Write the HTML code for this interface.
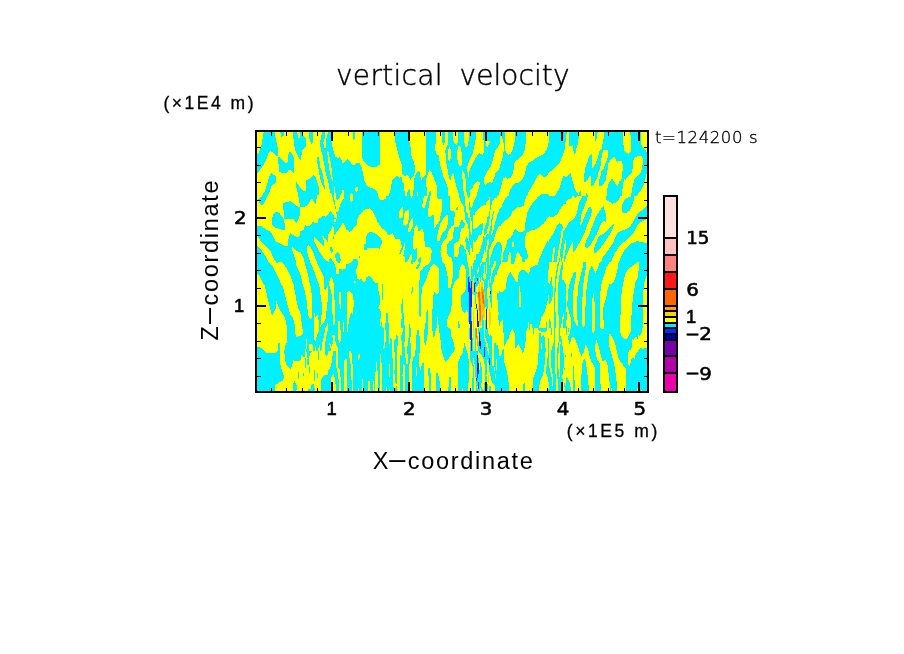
<!DOCTYPE html>
<html lang="en">
<head>
<meta charset="utf-8">
<title>vertical velocity</title>
<style>
html,body{margin:0;padding:0;background:#fff;}
body{width:904px;height:654px;overflow:hidden;}
svg{display:block}
text{font-family:"Liberation Sans",sans-serif;fill:#000}
.thin{font-family:"DejaVu Sans Light","DejaVu Sans","Liberation Sans",sans-serif;font-weight:200}
.lab text{font-family:"DejaVu Sans","Liberation Sans",sans-serif;font-size:17.6px;stroke:#000;stroke-width:0.55px}
.lab text.lib{font-family:"Liberation Sans",sans-serif;font-size:18.4px;stroke-width:0.6px}
</style>
</head>
<body>
<svg width="904" height="654" viewBox="0 0 904 654">
<rect width="904" height="654" fill="#fff"/>
<g shape-rendering="crispEdges">
<rect x="255" y="130" width="394" height="263" fill="#000"/>
<rect x="257" y="132" width="390" height="259" fill="#ffff00"/>
<svg x="257" y="132" width="390" height="259" viewBox="257 132 390 259" overflow="hidden">
<svg x="255" y="130" width="100" height="89" viewBox="255 130 100 89" overflow="hidden">
<rect x="255" y="130" width="100" height="89" fill="#ffff00"/>
<polygon fill="#00f0ff" points="263.8,131.6 274.7,131.6 275.7,138.2 277.7,147.7 278.4,157.2 273.4,153.1 270.6,151.1 268.6,153.1 266.6,159.3 263.2,165.6 256.6,174.2 256.6,155.9 259.8,150.4 261.8,143.6"/>
<polygon fill="#00f0ff" points="278.1,156.5 280.2,157.2 282.9,160.6 286.0,162.9 287.7,162.0 287.9,154.5 289.7,151.8 291.7,153.1 293.8,157.2 294.2,172.9 290.6,170.1 286.6,173.5 280.2,172.9 278.8,169.5"/>
<polygon fill="#00f0ff" points="279.9,131.6 284.3,131.6 283.6,136.1 281.5,136.5"/>
<polygon fill="#00f0ff" points="293.1,131.6 296.9,131.6 298.3,137.5 299.6,138.2 300.2,131.6 302.3,131.6 302.6,135.4 305.6,138.2 306.0,147.0 302.3,150.4 300.6,159.7 298.3,157.2 295.8,151.8 293.8,144.3"/>
<polygon fill="#00f0ff" points="308.7,131.6 313.2,131.6 313.2,142.2 311.5,143.6 309.7,140.2"/>
<polygon fill="#00f0ff" points="322.1,131.6 331.2,131.6 331.2,140.9 333.2,150.4 335.3,156.5 338.0,157.9 340.0,157.2 342.8,163.3 345.5,160.6 347.5,158.8 350.2,162.0 353.0,165.4 355.0,164.7 355.0,219.0 336.6,219.0 334.6,211.6 332.6,198.0 329.1,187.1 326.4,176.3 323.8,162.7 322.6,154.9 321.0,150.4 319.9,142.7 321.0,138.3"/>
<polygon fill="#ffff00" points="324.9,131.6 328.2,131.6 327.1,135.0 326.0,141.0 325.9,148.8 323.8,147.1 323.3,142.1 324.9,137.8"/>
<polygon fill="#ffff00" points="327.1,151.0 328.2,151.0 329.6,157.2 331.2,166.1 333.2,176.3 333.6,181.7 331.9,180.3 329.1,168.1"/>
<polygon fill="#00f0ff" points="316.9,156.5 318.9,157.2 320.3,166.7 323.0,177.6 325.1,185.8 325.1,189.9 323.7,189.9 321.7,181.7 318.9,170.8 316.9,161.3"/>
</svg>
<svg x="255" y="170" width="100" height="49" viewBox="255 170 100 49" overflow="hidden">
<rect x="255" y="170" width="100" height="49" fill="#ffff00"/>
<polygon fill="#00f0ff" points="271.6,173.1 275.5,176.1 276.6,182.2 271.6,185.5 269.4,192.1 266.1,199.3 262.7,205.4 259.4,203.2 257.8,199.9 261.6,196.5 265.0,191.0 268.3,180.0 269.9,174.4"/>
<polygon fill="#00f0ff" points="257.0,170.0 260.3,170.0 257.0,173.5"/>
<polygon fill="#00f0ff" points="278.8,170.0 288.2,170.0 287.1,172.8 283.8,173.5 279.6,172.0"/>
<polygon fill="#00f0ff" points="290.2,170.0 293.9,170.0 293.7,172.8"/>
<polygon fill="#00f0ff" points="295.9,181.1 299.2,186.6 303.1,190.5 305.9,190.5 306.4,180.5 310.3,178.3 313.6,175.3 315.8,177.7 319.2,187.7 319.2,194.9 316.9,195.4 315.8,204.8 312.5,199.3 310.9,199.3 308.1,204.3 305.3,206.5 300.4,207.1 299.2,201.0 297.6,192.1 296.2,186.6"/>
<polygon fill="#00f0ff" points="283.2,203.2 290.4,201.0 293.2,203.2 297.6,206.5 300.4,207.1 300.1,214.2 298.7,219.0 284.3,219.0 284.0,212.0 283.2,208.7"/>
<polygon fill="#00f0ff" points="272.1,219.0 273.3,214.2 276.0,212.0 278.8,212.6 282.1,216.5 283.2,219.0"/>
<polygon fill="#00f0ff" points="318.1,168.3 319.2,173.9 321.0,182.2 323.8,187.7 324.9,189.9 324.9,186.6 323.8,182.2 323.3,176.6 321.9,170.6 321.4,168.3"/>
<polygon fill="#00f0ff" points="324.1,165.6 326.0,173.9 328.0,180.5 329.1,186.6 330.2,192.1 332.1,195.4 333.8,203.2 335.2,207.6 336.3,212.0 337.1,219.0 355.0,219.0 355.0,168.9 332.4,168.9"/>
<polygon fill="#ffff00" points="329.1,166.7 330.2,173.3 331.0,178.3 332.1,180.7 333.0,180.5 332.1,173.9 331.0,166.7"/>
<polygon fill="#ffff00" points="334.1,187.1 334.1,197.7 335.2,203.2 336.3,212.0 338.0,212.6 340.2,204.3 344.0,197.7 344.0,189.9 342.4,190.5 339.1,198.8 337.4,199.9 335.8,197.7 335.2,187.7"/>
<polygon fill="#ffff00" points="350.1,194.9 351.8,193.0 353.5,194.3 353.5,198.8 351.8,202.6 350.4,200.4"/>
<polygon fill="#00f0ff" points="318.1,219.0 321.4,217.0 324.1,215.1 325.8,217.0 328.6,213.7 330.2,211.2 332.4,213.4 334.6,217.0 336.3,219.0"/>
</svg>
<svg x="255" y="219" width="100" height="66" viewBox="255 219 100 66" overflow="hidden">
<rect x="255" y="219" width="100" height="66" fill="#00f0ff"/>
<polygon fill="#ffff00" points="257.0,219.0 272.1,219.0 272.1,224.5 274.4,227.3 281.5,229.5 284.9,229.5 284.3,219.0 293.2,219.0 296.5,223.4 298.7,219.0 318.1,219.0 318.1,223.4 312.5,222.3 309.2,226.7 305.3,225.1 303.7,229.5 300.4,231.2 299.8,235.6 297.6,237.3 290.4,233.4 288.7,235.6 288.2,245.5 284.9,245.8 281.5,244.4 275.5,241.1 272.7,235.6 271.0,232.3 266.1,229.5 261.6,226.2 257.0,225.6"/>
<polygon fill="#ffff00" points="257.0,233.4 258.3,237.3 261.6,242.2 266.1,246.7 270.5,251.1 273.3,257.7 276.6,262.7 281.5,262.1 284.9,265.5 288.2,271.0 291.5,278.7 293.7,285.0 281.5,285.0 279.3,279.8 276.0,273.2 272.7,266.6 268.3,262.1 265.0,255.5 260.5,248.9 257.0,246.1"/>
<polygon fill="#ffff00" points="257.0,273.8 259.4,275.4 263.8,285.0 257.0,285.0"/>
<polygon fill="#ffff00" points="292.1,247.2 293.7,248.3 297.0,251.1 300.4,252.2 303.1,256.6 304.8,263.2 307.0,271.0 309.2,279.8 309.8,285.0 302.6,285.0 301.5,278.7 299.2,271.0 296.5,265.5 295.4,259.9 293.2,253.3 292.1,250.0"/>
<polygon fill="#ffff00" points="307.0,246.1 308.7,245.0 311.4,248.3 313.6,253.3 316.4,261.0 319.2,267.7 322.5,274.3 324.1,276.5 324.1,285.0 319.2,285.0 316.4,277.6 313.6,269.9 310.3,262.1 308.1,255.5 307.0,250.0"/>
<polygon fill="#ffff00" points="314.2,237.3 315.8,237.8 321.4,244.4 324.1,246.7 324.1,241.1 321.9,236.1 323.0,235.6 327.5,241.7 328.6,233.4 331.3,230.1 331.9,226.2 333.5,226.7 334.1,235.6 337.4,231.2 340.2,227.3 342.9,221.8 344.6,225.1 346.3,229.5 349.0,231.7 352.3,230.6 355.0,227.3 355.0,257.7 352.3,261.6 349.0,263.8 346.3,264.4 345.7,268.2 342.4,269.9 339.6,268.2 338.5,273.8 336.3,273.8 335.8,267.7 334.1,263.2 331.9,259.9 330.2,257.7 328.6,261.6 326.3,261.0 323.6,257.7 319.7,252.2 316.4,245.5 314.2,241.1"/>
<polygon fill="#00f0ff" points="330.2,246.7 332.4,247.8 333.0,252.2 331.3,252.7 330.2,250.0"/>
<polygon fill="#00f0ff" points="335.2,254.4 337.4,252.2 340.2,254.4 340.7,261.0 339.1,263.8 336.9,261.6 335.2,257.2"/>
<polygon fill="#00f0ff" points="333.0,235.6 334.1,235.6 334.1,238.9 333.0,238.9"/>
<polygon fill="#ffff00" points="334.1,219.0 335.8,219.0 335.8,222.3 334.4,222.3"/>
<polygon fill="#ffff00" points="328.6,285.0 330.2,278.7 331.9,277.1 333.0,280.9 334.1,285.0"/>
<polygon fill="#ffff00" points="353.5,285.0 354.0,280.4 355.0,279.8 355.0,285.0"/>
</svg>
<svg x="255" y="285" width="100" height="66" viewBox="255 285 100 66" overflow="hidden">
<rect x="255" y="285" width="100" height="66" fill="#00f0ff"/>
<polygon fill="#ffff00" points="257.0,285.0 264.4,285.0 266.1,291.6 268.3,301.6 270.5,310.4 272.1,315.4 274.4,311.0 275.5,308.8 275.5,300.5 276.6,300.5 277.7,304.9 281.0,311.5 284.3,316.0 286.0,321.5 287.1,329.2 287.1,341.4 285.4,345.3 284.3,351.0 280.2,351.0 279.9,342.5 278.5,343.1 278.0,351.0 265.0,351.0 261.6,348.1 257.0,346.4"/>
<polygon fill="#ffff00" points="282.1,285.0 284.3,291.6 286.0,299.4 288.2,307.1 290.4,314.9 293.2,318.2 294.8,325.9 295.4,333.7 296.5,336.8 299.2,336.4 302.8,334.2 302.6,329.2 301.5,321.5 300.9,314.9 298.7,309.3 296.5,300.5 294.8,291.6 293.7,285.0"/>
<polygon fill="#ffff00" points="303.1,285.0 304.8,291.6 306.4,299.4 307.5,309.3 308.7,317.1 310.9,319.8 312.0,317.1 312.5,307.1 312.0,296.1 310.3,285.0"/>
<polygon fill="#ffff00" points="319.2,285.0 320.3,293.8 321.4,301.6 322.5,307.1 321.4,316.0 320.3,327.0 323.6,322.6 325.8,318.2 326.9,307.1 327.5,301.6 328.0,291.6 328.0,286.1 326.9,285.0 326.3,290.0 324.7,290.5 323.8,285.0"/>
<polygon fill="#ffff00" points="329.1,285.0 331.3,290.5 331.9,301.6 332.4,312.7 333.0,320.4 333.0,325.4 334.1,325.4 335.2,320.4 335.2,312.7 334.6,301.6 334.1,290.5 334.1,285.0"/>
<polygon fill="#ffff00" points="339.1,292.2 340.7,292.2 341.3,301.6 341.1,308.8 340.0,308.8 339.3,301.6"/>
<polygon fill="#ffff00" points="347.4,291.6 349.0,291.1 352.3,293.3 353.5,298.3 353.5,313.8 350.7,313.2 349.6,317.1 348.5,323.7 347.9,331.5 347.0,331.5 347.0,318.2 346.8,307.1 347.0,296.1"/>
<polygon fill="#ffff00" points="343.3,322.1 344.2,322.1 344.2,331.5 343.3,331.5"/>
<polygon fill="#ffff00" points="314.2,313.2 315.3,313.2 315.3,317.6 317.5,314.9 318.1,318.2 318.9,322.6 318.6,331.5 316.9,335.9 315.6,340.9 314.5,339.8 314.2,331.5 313.8,321.5"/>
<polygon fill="#ffff00" points="327.5,323.2 328.0,323.2 327.5,331.5 325.8,338.1 325.2,344.7 324.7,351.0 321.4,351.0 322.5,342.5 324.1,334.8 325.2,329.2"/>
<polygon fill="#ffff00" points="338.5,321.5 340.0,320.4 340.2,329.2 341.1,332.6 340.7,340.3 339.6,343.6 338.5,340.3 338.2,331.5"/>
<polygon fill="#ffff00" points="332.4,335.3 334.6,334.8 334.9,340.3 336.3,344.7 337.7,346.9 338.0,351.0 331.3,351.0 330.2,346.9 329.1,343.1 330.2,343.6 331.9,346.9 333.0,342.5"/>
<polygon fill="#ffff00" points="305.3,351.0 305.9,344.7 306.4,339.2 307.0,339.2 306.8,344.7 306.4,351.0"/>
<polygon fill="#ffff00" points="308.7,351.0 309.2,344.7 309.8,343.1 312.5,345.3 313.1,351.0"/>
<polygon fill="#ffff00" points="315.3,351.0 315.3,346.9 316.1,346.9 316.1,351.0"/>
<polygon fill="#ffff00" points="318.1,351.0 318.6,346.9 319.4,344.2 320.0,346.9 320.3,351.0"/>
</svg>
<svg x="255" y="351" width="100" height="44" viewBox="255 351 100 44" overflow="hidden">
<rect x="255" y="351" width="100" height="44" fill="#00f0ff"/>
<polygon fill="#ffff00" points="265.0,351.0 277.1,351.0 276.0,352.7 271.6,353.4 266.1,352.7"/>
<polygon fill="#ffff00" points="280.2,351.0 284.3,351.0 284.9,359.8 286.5,365.4 290.4,369.3 292.1,366.5 293.2,359.3 294.8,361.5 297.0,360.4 298.7,361.5 300.9,359.8 301.5,355.4 303.7,357.6 305.3,357.1 305.3,351.0 306.4,351.0 307.0,357.6 308.7,358.7 310.3,353.2 312.5,351.0 333.0,351.0 332.4,357.6 331.9,362.1 330.2,367.6 328.0,370.9 327.5,374.8 324.1,374.8 321.9,377.5 320.8,382.0 320.8,391.0 274.9,391.0 275.5,385.3 278.2,383.1 283.2,380.3 284.0,376.4 282.1,370.9 280.2,364.3"/>
<polygon fill="#00f0ff" points="324.9,351.0 328.2,351.0 327.5,355.4 325.6,356.0"/>
<polygon fill="#00f0ff" points="318.1,351.0 318.9,351.0 318.9,359.8 318.1,359.8"/>
<polygon fill="#00f0ff" points="319.7,353.8 320.3,353.8 320.3,357.1 319.7,357.1"/>
<polygon fill="#00f0ff" points="305.3,357.6 306.4,357.6 306.4,367.6 305.3,368.7"/>
<polygon fill="#00f0ff" points="307.0,359.3 308.7,359.3 308.7,365.4 307.0,365.4"/>
<polygon fill="#00f0ff" points="308.9,367.0 309.8,367.0 309.8,372.6 308.9,372.6"/>
<polygon fill="#00f0ff" points="303.1,373.1 303.9,373.1 303.9,375.9 303.1,375.9"/>
<polygon fill="#00f0ff" points="298.1,371.5 299.0,371.5 299.0,378.7 298.1,378.7"/>
<polygon fill="#00f0ff" points="314.4,370.4 315.3,370.4 315.3,380.9 314.4,380.9"/>
<polygon fill="#00f0ff" points="316.9,372.6 317.6,372.6 317.6,377.5 316.9,377.5"/>
<polygon fill="#00f0ff" points="293.2,384.2 294.3,380.9 296.5,385.3 297.0,388.6 296.2,391.0 292.6,391.0"/>
<polygon fill="#00f0ff" points="308.1,391.0 308.7,388.6 309.8,389.2 309.8,391.0"/>
<polygon fill="#00f0ff" points="310.3,391.0 310.9,386.4 312.0,383.6 313.6,384.2 314.7,388.6 315.3,391.0"/>
<polygon fill="#ffff00" points="336.3,351.0 338.0,351.0 338.0,367.6 340.2,369.8 341.1,391.0 339.1,391.0 338.5,378.7 337.4,370.9 336.3,367.6"/>
<polygon fill="#ffff00" points="331.3,377.0 333.5,374.2 335.2,378.7 336.0,391.0 331.3,391.0"/>
<polygon fill="#ffff00" points="344.4,359.8 346.8,359.0 347.4,391.0 344.0,391.0"/>
<polygon fill="#ffff00" points="349.0,351.0 350.7,351.0 352.3,355.4 353.2,391.0 351.8,391.0 351.2,367.6 349.6,359.8"/>
</svg>
<svg x="353" y="130" width="100" height="66" viewBox="353 130 100 66" overflow="hidden">
<rect x="353" y="130" width="100" height="66" fill="#ffff00"/>
<polygon fill="#00f0ff" points="353.0,132.0 355.0,132.0 355.0,137.7 353.0,141.1"/>
<polygon fill="#00f0ff" points="362.4,132.0 379.5,132.0 379.5,140.5 380.1,152.1 380.1,164.3 376.8,166.5 370.1,166.7 366.3,164.3 362.4,159.3 362.1,146.6"/>
<polygon fill="#00f0ff" points="353.0,165.4 357.4,163.0 359.6,163.2 361.8,167.6 363.0,174.2 364.6,180.9 366.3,184.8 369.6,187.5 375.1,189.2 377.3,191.9 377.9,196.0 353.0,196.0"/>
<polygon fill="#ffff00" points="355.2,188.6 356.9,186.2 358.0,188.1 357.6,191.4 355.8,193.1"/>
<polygon fill="#00f0ff" points="394.5,132.0 395.0,141.1 397.2,149.9 398.9,156.5 401.7,164.3 402.2,173.1 404.4,176.5 406.1,175.4 407.8,174.8 410.5,179.8 412.7,176.5 414.2,174.8 414.9,170.9 414.4,163.2 411.6,156.5 410.5,146.6 409.4,141.1 408.9,132.0"/>
<polygon fill="#00f0ff" points="388.4,196.0 391.2,187.5 391.7,181.4 395.0,177.0 396.7,175.9 399.5,177.8 401.7,177.0 402.2,182.0 404.1,183.1 404.8,196.0"/>
<polygon fill="#00f0ff" points="407.0,196.0 407.8,189.7 410.0,189.2 410.0,196.0"/>
<polygon fill="#00f0ff" points="413.3,196.0 413.8,182.0 414.9,176.5 416.6,172.6 419.4,170.9 420.3,176.5 421.6,179.8 423.8,176.5 426.0,174.8 426.9,196.0"/>
<polygon fill="#ffff00" points="416.6,196.0 416.9,192.5 418.0,191.9 418.3,196.0"/>
<polygon fill="#00f0ff" points="426.0,132.0 436.0,132.0 436.0,142.2 434.9,146.6 436.0,154.3 438.7,154.9 439.8,163.2 441.5,169.8 443.7,177.6 445.9,182.0 447.6,187.5 447.9,196.0 437.1,196.0 436.5,185.3 435.4,182.0 433.2,176.5 431.5,172.0 429.9,170.0 428.2,172.0 426.6,178.7 426.0,174.2"/>
<polygon fill="#00f0ff" points="428.2,196.0 429.9,191.4 431.0,191.4 431.0,196.0"/>
<polygon fill="#00f0ff" points="442.0,132.0 445.0,132.0 444.8,142.2 443.2,145.5 442.0,141.1"/>
<polygon fill="#00f0ff" points="447.9,132.0 453.0,132.0 453.0,177.0 451.5,180.9 449.2,178.7 447.6,169.8 445.9,161.0 445.4,149.9 447.9,144.4"/>
<polygon fill="#ffff00" points="448.4,148.8 449.8,147.1 450.9,149.4 450.9,158.8 449.5,161.0 448.1,159.3"/>
</svg>
<svg x="353" y="196" width="100" height="66" viewBox="353 196 100 66" overflow="hidden">
<rect x="353" y="196" width="100" height="66" fill="#00f0ff"/>
<polygon fill="#ffff00" points="378.2,196.0 386.0,196.0 385.6,198.8 382.3,200.6 379.0,198.8"/>
<polygon fill="#ffff00" points="353.0,229.2 354.1,227.5 356.9,224.8 357.4,219.2 359.6,214.8 364.1,209.8 369.6,208.2 372.4,210.4 375.1,215.9 377.3,221.4 381.8,228.1 386.2,231.4 388.4,235.3 391.2,233.6 392.8,233.4 395.0,238.6 400.0,239.1 401.1,243.6 402.2,248.0 404.4,243.0 405.0,243.6 404.4,251.3 403.3,255.7 405.0,257.9 405.0,262.0 358.5,262.0 356.9,258.5 353.0,259.3"/>
<polygon fill="#00f0ff" points="364.1,244.1 366.1,243.6 366.1,236.4 368.5,232.5 371.3,232.0 376.8,234.2 379.5,236.9 382.0,240.2 381.5,244.1 380.1,246.3 379.5,248.5 367.4,248.0 366.8,249.7 364.1,249.7"/>
<polygon fill="#00f0ff" points="359.1,256.3 360.0,256.3 360.0,257.9 359.1,257.9"/>
<polygon fill="#00f0ff" points="399.2,254.1 400.3,250.2 402.2,247.4 403.3,244.7 403.9,245.2 402.8,249.1 401.1,253.0 400.0,254.1"/>
<polygon fill="#ffff00" points="411.1,196.0 412.2,196.0 412.2,197.7 411.1,197.7"/>
<polygon fill="#ffff00" points="398.9,217.6 399.2,211.5 401.1,208.2 403.0,207.1 403.3,214.3 402.2,218.1"/>
<polygon fill="#ffff00" points="403.3,224.8 403.7,214.8 405.5,211.5 408.3,209.8 409.2,210.4 408.9,218.1 407.8,223.7 405.5,225.9"/>
<polygon fill="#ffff00" points="408.1,231.4 408.9,224.8 411.1,219.2 413.0,217.0 413.3,224.8 411.6,229.2 409.4,232.0"/>
<polygon fill="#ffff00" points="413.3,249.1 413.6,231.4 414.9,227.0 416.6,225.0 417.7,227.0 418.3,231.4 421.6,229.2 423.2,229.7 424.3,236.9 424.9,247.4 428.2,246.9 430.4,247.4 431.8,251.3 431.0,255.7 430.4,262.0 421.0,262.0 420.7,256.8 418.3,259.1 417.7,262.0 414.9,262.0 416.9,257.9 416.9,248.0 414.9,249.7"/>
<polygon fill="#ffff00" points="407.2,262.0 409.4,256.8 411.6,254.1 412.2,257.9 411.1,262.0"/>
<polygon fill="#ffff00" points="422.1,206.5 423.2,199.3 424.3,196.0 428.2,196.0 427.1,199.3 426.0,203.7 424.9,207.6 423.2,207.6"/>
<polygon fill="#ffff00" points="430.4,196.0 437.1,196.0 437.6,198.8 441.5,199.3 442.0,209.3 440.9,214.8 439.3,221.4 436.5,225.3 434.3,228.1 434.3,217.0 433.2,214.8 430.4,217.6 428.2,216.5 428.2,210.4 429.3,202.6"/>
<polygon fill="#ffff00" points="449.8,196.0 453.0,196.0 453.0,210.9 450.3,210.4"/>
<polygon fill="#ffff00" points="437.1,240.8 437.6,233.6 440.4,223.7 443.2,218.7 445.9,215.0 448.1,215.4 447.9,223.7 445.9,229.2 443.7,231.4 441.5,234.7 439.8,240.8"/>
<polygon fill="#ffff00" points="453.0,225.9 450.3,228.1 448.1,231.4 447.0,236.9 444.3,240.2 441.5,244.7 440.4,251.3 441.5,256.8 441.5,262.0 453.0,262.0"/>
<polygon fill="#00f0ff" points="453.0,239.1 449.2,241.4 447.2,244.7 447.0,253.5 448.7,256.3 451.5,257.9 453.0,260.2"/>
</svg>
<svg x="353" y="262" width="100" height="66" viewBox="353 262 100 66" overflow="hidden">
<rect x="353" y="262" width="100" height="66" fill="#ffff00"/>
<polygon fill="#00f0ff" points="353.0,262.0 358.0,262.0 357.4,266.4 356.1,269.7 356.9,278.6 359.1,279.7 361.3,279.1 364.1,282.5 366.1,280.8 366.3,277.5 368.5,276.2 370.7,276.6 372.9,279.7 375.1,283.0 377.9,282.5 378.7,293.0 379.5,295.2 380.1,304.0 378.2,307.9 379.5,308.5 381.5,312.9 380.7,317.3 380.1,322.8 380.7,328.0 353.0,328.0"/>
<polygon fill="#ffff00" points="354.1,280.3 355.8,281.9 355.8,283.6 354.1,283.0"/>
<polygon fill="#ffff00" points="353.0,299.6 353.9,299.6 353.9,306.8 353.0,306.8"/>
<polygon fill="#00f0ff" points="381.5,285.2 382.9,284.1 382.9,299.6 382.0,300.2"/>
<polygon fill="#00f0ff" points="385.1,328.0 385.6,321.7 386.2,313.1 387.8,313.1 388.2,319.5 389.0,328.0"/>
<polygon fill="#00f0ff" points="381.2,321.2 382.3,322.8 382.6,328.0 380.7,328.0"/>
<polygon fill="#00f0ff" points="401.1,328.0 401.7,315.1 401.1,307.4 402.2,299.1 403.0,299.1 403.0,308.5 403.7,315.1 404.4,323.9 405.0,328.0"/>
<polygon fill="#00f0ff" points="411.1,293.5 411.6,290.8 412.2,287.2 413.1,287.2 412.7,291.3 412.2,294.1"/>
<polygon fill="#00f0ff" points="408.9,328.0 409.2,323.9 410.0,324.5 410.5,328.0"/>
<polygon fill="#00f0ff" points="406.1,262.0 407.2,262.0 407.0,262.9"/>
<polygon fill="#00f0ff" points="411.1,262.0 413.3,262.0 412.7,263.7 411.4,263.7"/>
<polygon fill="#00f0ff" points="415.8,268.9 416.9,265.9 419.2,262.6 421.0,262.0 419.9,264.8 418.3,268.1 416.9,269.2"/>
<polygon fill="#00f0ff" points="419.9,273.1 419.4,281.9 419.2,316.2 420.5,316.8 421.0,306.2 421.4,295.2 422.1,288.5 423.8,284.1 426.0,279.7 428.2,273.1 430.4,267.5 433.8,264.0 437.1,265.9 439.1,269.2 439.1,293.0 436.5,294.1 434.3,292.1 433.2,296.3 432.4,310.7 432.1,328.0 447.6,328.0 447.0,320.6 447.9,317.3 450.3,312.9 451.5,306.2 453.0,305.1 453.0,278.0 451.5,278.6 450.9,288.0 447.9,288.0 447.6,276.4 445.9,268.6 444.8,264.2 442.6,262.0 430.4,262.0 428.8,263.7 423.8,267.0 420.7,270.8"/>
<polygon fill="#ffff00" points="436.8,328.0 437.1,317.3 438.0,317.3 438.2,322.8 439.1,328.0"/>
<polygon fill="#00f0ff" points="424.9,328.0 426.0,319.5 426.6,310.7 428.0,310.1 428.2,317.3 428.0,328.0"/>
</svg>
<svg x="353" y="328" width="100" height="66" viewBox="353 328 100 66" overflow="hidden">
<rect x="353" y="328" width="100" height="66" fill="#00f0ff"/>
<polygon fill="#ffff00" points="358.0,360.1 358.3,355.1 359.6,354.0 359.9,355.7 359.1,360.1"/>
<polygon fill="#ffff00" points="358.0,391.1 358.3,388.3 359.1,388.3 359.1,391.1"/>
<polygon fill="#ffff00" points="361.8,391.1 362.1,379.4 363.0,379.4 363.2,391.1"/>
<polygon fill="#ffff00" points="367.9,391.1 368.3,381.1 369.6,381.1 369.8,391.1"/>
<polygon fill="#ffff00" points="372.9,391.1 373.1,381.1 374.0,381.1 374.0,391.1"/>
<polygon fill="#ffff00" points="375.1,391.1 374.9,376.7 375.7,370.6 376.2,362.3 376.9,362.3 377.1,370.6 377.9,372.2 377.9,391.1"/>
<polygon fill="#ffff00" points="423.8,328.0 453.0,328.0 453.0,391.1 423.8,391.1"/>
<polygon fill="#00f0ff" points="432.1,328.0 436.0,328.0 434.9,334.6 433.8,338.0 432.9,333.5"/>
<polygon fill="#00f0ff" points="438.7,328.0 450.3,328.0 451.5,333.5 453.0,336.8 453.0,354.0 450.3,355.7 447.0,361.2 445.4,361.7 443.2,356.8 441.5,350.1 440.4,339.1"/>
<polygon fill="#00f0ff" points="428.2,368.4 429.9,370.0 431.0,374.5 431.5,391.1 429.3,391.1 428.8,377.8"/>
<polygon fill="#00f0ff" points="436.0,373.4 438.0,373.4 439.3,378.9 440.4,391.1 436.5,391.1"/>
<polygon fill="#00f0ff" points="448.4,391.1 448.7,378.9 449.8,376.1 451.2,377.8 451.2,391.1"/>
</svg>
<svg x="380" y="328" width="50" height="36" viewBox="380 328 50 36" overflow="hidden">
<rect x="380" y="328" width="50" height="36" fill="#ffff00"/>
<polygon fill="#00f0ff" points="380.0,328.0 383.9,328.0 383.9,345.7 383.0,346.3 383.0,348.7 384.1,348.7 385.0,347.4 385.0,341.8 385.8,341.6 385.8,330.2 385.0,329.9 385.0,328.0 388.8,328.0 388.8,343.5 390.0,343.8 390.0,338.2 391.9,339.1 391.9,357.9 393.0,358.1 393.0,364.0 382.2,364.0 381.1,362.8 381.1,354.0 380.0,354.0"/>
<polygon fill="#00f0ff" points="394.1,340.2 394.9,339.1 396.0,338.5 396.0,335.2 396.9,335.2 398.0,336.3 398.0,345.7 396.9,346.3 396.9,364.0 394.9,364.0 394.9,352.1 394.1,351.8"/>
<polygon fill="#00f0ff" points="403.0,328.0 404.9,328.0 404.9,341.8 404.1,342.1 404.1,346.8 405.2,347.1 405.2,357.9 406.0,358.1 406.0,364.0 400.2,364.0 400.2,355.1 401.0,354.8 401.3,355.7 402.1,355.7 402.1,341.0 401.0,340.7 401.0,335.2 402.1,334.9 402.1,332.1 403.0,331.9"/>
<polygon fill="#00f0ff" points="409.0,328.0 411.0,328.0 411.0,336.8 410.1,337.1 410.1,342.9 411.0,343.2 411.0,359.0 410.1,359.2 410.1,364.0 408.2,364.0 408.2,354.0 407.1,353.7 407.1,346.3 408.2,346.0 408.2,338.2 409.0,338.0"/>
<polygon fill="#00f0ff" points="417.1,329.9 418.2,330.2 419.0,331.0 419.0,336.0 419.9,336.3 419.9,352.9 419.0,353.2 419.0,364.0 412.1,364.0 412.1,360.9 413.2,360.6 413.2,357.0 414.0,356.8 415.1,355.7 415.1,350.1 416.0,349.8 416.0,335.2 417.1,334.9"/>
<polygon fill="#00f0ff" points="424.0,329.1 425.1,328.0 428.0,328.0 428.0,334.9 427.0,335.2 427.0,341.0 425.9,341.3 425.9,344.9 425.1,344.9 424.9,342.9 424.0,342.7"/>
<polygon fill="#00f0ff" points="422.0,364.0 422.1,363.0 424.0,363.0 424.1,364.0"/>
</svg>
<svg x="380" y="358" width="50" height="36" viewBox="380 358 50 36" overflow="hidden">
<rect x="380" y="358" width="50" height="36" fill="#00f0ff"/>
<polygon fill="#ffff00" points="380.0,358.0 381.1,358.0 381.1,363.0 382.1,363.3 382.1,391.0 380.0,391.0"/>
<polygon fill="#ffff00" points="388.8,364.1 390.0,364.1 390.0,376.8 388.8,376.8"/>
<polygon fill="#ffff00" points="393.0,358.0 394.9,358.0 394.9,369.6 394.1,369.9 394.1,373.8 394.9,374.0 394.9,382.9 396.0,384.0 396.9,384.0 396.9,358.0 399.8,358.0 399.8,391.0 397.0,391.0 397.0,386.2 396.0,386.2 395.8,388.1 394.9,388.1 394.1,387.9 393.0,386.8"/>
<polygon fill="#ffff00" points="386.0,391.0 386.0,387.0 386.9,387.0 386.9,391.0"/>
<polygon fill="#ffff00" points="388.8,391.0 388.8,390.1 390.0,390.1 390.0,391.0"/>
<polygon fill="#ffff00" points="403.0,364.1 403.8,364.1 404.9,365.2 404.9,391.0 403.1,391.0 403.1,376.3 402.0,376.0 402.0,374.9 403.1,374.6"/>
<polygon fill="#ffff00" points="406.0,358.0 407.9,358.0 407.9,363.5 407.1,364.6 406.0,363.5"/>
<polygon fill="#ffff00" points="411.0,358.0 412.9,358.0 412.9,360.5 412.0,360.8 412.0,391.0 409.9,391.0 409.9,382.3 409.0,382.1 409.0,364.1 410.1,363.5 410.1,359.1"/>
<polygon fill="#ffff00" points="416.0,367.1 416.9,367.1 416.9,376.0 416.0,376.0"/>
<polygon fill="#ffff00" points="419.0,358.0 430.0,358.0 430.0,368.5 428.9,368.2 428.1,368.0 428.1,375.7 428.9,376.0 428.9,391.0 425.1,391.0 424.8,387.9 424.0,387.9 424.0,363.3 422.3,363.3 422.0,365.7 421.2,366.3 420.9,369.9 420.1,369.9 419.9,367.1 419.0,366.6"/>
</svg>
<svg x="451" y="130" width="100" height="66" viewBox="451 130 100 66" overflow="hidden">
<rect x="451" y="130" width="100" height="66" fill="#00f0ff"/>
<polygon fill="#ffff00" points="453.0,132.0 457.9,132.0 457.9,141.1 457.1,144.9 455.4,143.8 453.0,140.5"/>
<polygon fill="#ffff00" points="463.7,132.0 468.7,132.0 468.7,140.0 467.6,145.5 465.9,147.7 464.8,145.5 464.1,138.8"/>
<polygon fill="#ffff00" points="457.9,146.6 459.3,146.0 461.0,147.7 461.8,154.3 462.1,163.2 461.0,166.0 459.0,165.4 457.6,161.0 457.1,154.3"/>
<polygon fill="#ffff00" points="475.9,132.0 475.6,140.0 474.2,146.6 472.6,154.3 470.4,157.7 468.7,162.1 467.4,166.5 467.4,172.0 468.5,177.0 469.8,168.7 473.1,163.2 474.8,158.8 477.5,155.4 479.8,153.2 482.5,154.9 484.0,152.1 483.6,141.1 483.1,132.0"/>
<polygon fill="#ffff00" points="486.2,141.1 490.3,141.1 489.2,144.4 487.0,147.7 486.2,145.5"/>
<polygon fill="#ffff00" points="501.3,135.0 503.0,140.0 504.1,146.6 503.5,152.1 502.4,158.8 500.8,163.2 499.7,167.6 497.5,171.5 495.2,173.1 494.7,176.5 493.0,179.8 491.9,183.7 490.3,182.0 488.6,182.5 485.3,185.3 484.2,183.1 484.2,177.6 486.4,173.1 488.6,169.8 490.8,166.5 493.0,159.9 494.1,154.3 495.2,150.5 497.5,148.3 499.7,143.3 500.2,136.6"/>
<polygon fill="#ffff00" points="505.0,132.0 515.2,132.0 514.6,141.1 512.9,148.8 510.7,153.8 508.0,154.9 505.8,152.1 504.7,146.6"/>
<polygon fill="#ffff00" points="526.2,132.0 548.9,132.0 548.9,141.1 547.2,148.8 545.0,152.1 541.7,155.4 536.2,157.7 532.9,160.4 528.4,163.2 526.2,166.5 525.1,174.2 522.9,178.7 519.6,182.0 517.4,183.1 514.1,183.7 511.8,187.5 509.6,190.8 509.1,196.0 498.0,196.0 499.7,191.9 501.9,183.1 503.0,178.7 505.2,177.0 507.4,178.7 510.7,177.6 512.4,174.2 513.5,169.8 514.1,164.3 515.2,161.0 519.6,158.2 522.9,154.9 525.1,149.9 525.7,141.1"/>
<polygon fill="#ffff00" points="527.3,196.0 528.4,191.9 531.2,187.5 534.0,183.1 536.2,178.7 537.8,175.4 540.0,174.0 542.8,176.5 546.1,177.0 548.3,173.7 551.0,170.9 551.0,196.0"/>
<polygon fill="#00f0ff" points="539.5,196.0 541.7,194.2 547.2,193.9 550.0,196.0"/>
<polygon fill="#ffff00" points="451.0,177.0 452.1,175.9 453.2,172.0 454.1,176.5 455.4,183.1 457.1,188.6 458.7,193.1 459.3,196.0 451.0,196.0"/>
<polygon fill="#ffff00" points="462.1,169.3 463.7,172.0 465.4,176.5 465.9,185.3 466.5,191.9 467.6,196.0 464.3,196.0 463.2,189.7 462.6,179.8 461.8,174.2"/>
<polygon fill="#ffff00" points="470.0,196.0 470.4,189.7 473.1,187.5 473.7,184.2 477.5,181.1 479.8,182.5 479.2,187.5 477.5,191.9 476.4,196.0"/>
</svg>
<svg x="451" y="196" width="100" height="66" viewBox="451 196 100 66" overflow="hidden">
<rect x="451" y="196" width="100" height="66" fill="#00f0ff"/>
<polygon fill="#ffff00" points="493.0,196.0 508.0,196.0 505.2,198.8 503.0,202.6 501.3,207.1 499.1,209.3 498.0,213.7 496.4,218.1 495.2,222.5 494.7,229.2 493.0,229.2"/>
<polygon fill="#ffff00" points="495.2,229.2 498.6,225.9 503.0,222.5 508.5,218.1 511.3,214.8 512.4,211.5 515.2,209.3 517.4,207.1 520.1,207.6 523.5,206.0 525.1,200.4 526.2,196.0 538.4,196.0 536.2,199.3 532.9,202.6 530.1,207.1 527.3,212.6 526.2,218.1 525.1,223.7 524.6,230.3 521.8,232.0 517.4,231.4 515.7,229.2 514.1,229.7 512.9,234.7 510.2,238.0 507.4,239.7 506.3,244.7 505.2,249.1 503.0,253.5 502.4,262.0 501.0,262.0 501.3,255.7 501.9,248.0 501.3,243.6 499.7,242.2 496.9,242.5 495.2,244.7 493.6,249.1 492.5,253.5 491.4,262.0 488.6,262.0 488.6,229.2"/>
<polygon fill="#ffff00" points="512.1,241.9 514.1,241.9 514.1,247.1 512.1,247.1"/>
<polygon fill="#ffff00" points="507.4,262.0 508.5,254.6 509.6,251.9 511.3,253.5 511.3,262.0"/>
<polygon fill="#ffff00" points="514.6,262.0 516.3,254.6 517.4,251.9 519.6,254.6 521.8,257.9 521.8,262.0"/>
<polygon fill="#ffff00" points="551.0,215.9 549.5,216.5 546.1,219.8 543.4,223.7 539.5,227.0 536.2,229.2 531.8,230.3 527.3,232.0 525.7,234.7 524.9,240.2 525.1,246.9 527.3,252.4 527.9,257.9 525.1,259.6 524.9,262.0 538.4,262.0 539.5,257.9 541.7,253.5 543.9,248.0 546.1,243.6 547.2,240.8 548.3,242.5 551.0,239.7"/>
</svg>
<svg x="451" y="196" width="50" height="36" viewBox="451 196 50 36" overflow="hidden">
<rect x="451" y="196" width="50" height="36" fill="#ffff00"/>
<polygon fill="#00f0ff" points="459.0,196.0 465.1,196.0 465.1,205.4 466.2,206.0 466.5,211.5 467.9,213.1 468.1,217.6 470.1,217.8 470.1,232.0 469.3,232.0 468.7,229.2 468.1,225.9 467.0,223.1 465.4,220.3 465.1,213.7 464.3,211.5 464.0,207.1 462.1,203.7 460.1,200.4"/>
<polygon fill="#00f0ff" points="467.9,196.0 470.1,196.0 469.8,197.1 468.1,197.9"/>
<polygon fill="#00f0ff" points="476.2,196.0 496.9,196.0 496.9,197.7 494.7,197.9 494.1,198.8 493.3,201.0 492.2,201.5 491.9,204.8 491.1,205.1 490.9,209.8 490.0,209.8 490.0,197.4 489.2,197.4 488.9,199.9 487.2,201.5 485.8,203.2 485.6,204.8 483.6,205.1 481.1,206.2 479.2,207.9 477.0,210.4 475.1,212.0 474.8,214.8 473.1,215.1 473.1,228.6 474.8,228.9 475.3,227.8 477.0,227.0 479.2,225.3 481.4,223.7 482.8,223.1 483.0,229.2 482.0,230.3 482.0,232.0 472.0,232.0 471.9,220.9 471.2,220.3 470.9,217.0 470.1,216.7 469.8,209.8 469.0,209.3 469.0,202.4 470.1,202.1 470.1,206.5 471.2,207.9 471.9,207.6 472.0,206.0 472.8,205.7 473.0,202.1 474.0,201.5 474.2,199.9 475.1,199.6 475.3,197.9 476.2,197.7"/>
<polygon fill="#00f0ff" points="451.0,210.9 453.8,210.9 454.0,212.0 454.9,212.3 454.9,217.0 454.0,217.3 453.9,224.8 453.2,225.9 451.0,226.1"/>
<polygon fill="#00f0ff" points="456.0,209.8 456.1,207.9 457.1,207.1 458.1,207.1 458.1,209.8"/>
<polygon fill="#00f0ff" points="454.0,232.0 454.0,227.2 459.0,227.0 459.3,224.8 460.1,224.5 460.1,222.5 461.0,222.0 461.2,220.1 462.9,220.1 463.2,222.0 464.3,222.3 464.8,223.7 464.8,227.8 462.9,228.1 461.2,228.9 461.0,232.0"/>
<polygon fill="#00f0ff" points="489.2,211.2 490.0,211.2 490.0,218.1 489.2,219.2 488.9,227.5 488.1,229.2 487.2,230.3 487.0,232.0 484.1,232.0 484.2,228.1 485.6,224.8 487.0,222.5 487.0,218.1 488.1,215.9 489.2,215.4"/>
<polygon fill="#00f0ff" points="492.2,214.3 493.0,214.3 493.0,211.2 494.0,211.2 494.0,213.7 493.3,214.3 493.0,219.2 492.2,220.3 491.9,227.0 490.8,228.1 490.8,232.0 489.2,232.0 489.2,230.3 490.0,229.2 490.3,225.9 491.1,224.8 491.1,219.2 492.2,218.7"/>
<polygon fill="#00f0ff" points="501.0,207.9 499.9,208.4 499.1,209.8 498.8,212.0 498.0,212.6 497.2,214.3 496.9,217.6 496.1,218.1 495.8,220.3 495.0,221.4 494.7,224.8 493.9,225.9 493.6,229.2 493.0,230.3 493.0,232.0 496.9,232.0 497.0,229.2 498.0,228.1 498.8,227.0 499.1,226.1 501.0,225.9"/>
</svg>
<svg x="451" y="226" width="50" height="36" viewBox="451 226 50 36" overflow="hidden">
<rect x="451" y="226" width="50" height="36" fill="#00f0ff"/>
<polygon fill="#ffff00" points="451.0,226.0 459.3,226.0 459.0,226.8 454.0,227.1 454.0,231.5 453.1,232.1 452.9,237.9 452.1,239.3 451.0,239.8"/>
<polygon fill="#ffff00" points="464.3,226.0 468.0,226.0 468.1,228.5 469.1,229.0 469.1,240.7 468.1,240.9 467.9,237.9 467.0,237.1 466.2,237.3 465.9,239.0 465.1,239.3 465.1,241.5 465.9,242.0 466.2,248.1 467.0,249.2 467.9,250.3 469.0,253.1 469.3,254.8 470.1,254.8 470.1,245.1 470.9,245.1 471.2,247.8 472.0,248.1 472.0,251.7 473.1,251.9 473.1,240.1 474.0,240.1 474.2,241.8 475.6,241.8 475.9,240.4 477.0,239.3 477.3,237.9 478.1,236.5 479.2,235.1 481.1,234.8 482.0,233.7 482.2,230.4 483.1,229.9 483.1,226.0 484.8,226.0 484.8,227.7 484.2,228.2 483.9,236.0 483.1,236.5 483.0,242.0 482.2,242.6 482.0,244.8 481.1,245.4 480.9,248.7 480.0,249.2 479.8,251.7 478.9,252.5 478.7,253.9 476.2,254.2 475.9,259.7 474.2,260.3 474.0,262.0 467.0,262.0 467.0,254.8 465.9,253.7 465.7,250.1 464.8,249.2 464.0,248.1 463.7,246.5 462.1,245.1 461.2,244.3 460.1,244.3 459.8,247.0 459.0,247.3 459.0,253.7 458.1,254.2 457.9,256.7 454.0,256.7 454.0,244.3 455.1,243.1 456.5,242.0 457.9,241.8 459.0,239.8 459.8,239.0 460.1,232.1 461.0,231.5 461.1,229.0 462.1,228.5 464.0,227.9"/>
<polygon fill="#ffff00" points="470.1,226.0 471.9,226.0 471.9,234.8 470.9,234.8 470.9,232.1 470.1,231.8"/>
<polygon fill="#ffff00" points="473.1,226.0 478.1,226.0 477.3,227.7 475.6,227.9 475.1,228.8 473.1,228.8"/>
<polygon fill="#ffff00" points="451.0,258.1 452.0,258.1 452.0,262.0 451.0,262.0"/>
<polygon fill="#ffff00" points="488.5,226.0 490.0,226.0 489.7,229.3 489.2,233.2 487.5,234.3 486.4,234.8 485.8,236.5 484.2,237.1 484.1,236.0 484.7,234.3 486.4,233.2 487.2,230.4 487.8,228.2"/>
<polygon fill="#ffff00" points="492.0,226.0 494.0,226.0 493.9,229.3 493.0,230.4 492.8,232.6 491.9,233.2 491.7,234.8 490.8,234.8 490.5,232.6 491.1,232.1 491.9,229.3"/>
<polygon fill="#ffff00" points="499.1,226.0 498.0,228.2 496.9,229.9 496.1,232.6 495.2,234.3 494.7,236.0 494.1,239.8 493.0,242.0 491.9,242.6 490.8,246.5 489.7,248.1 489.2,250.3 488.9,254.8 488.6,262.0 490.3,262.0 490.5,257.0 490.8,254.8 491.9,253.7 493.0,249.2 494.7,245.9 496.4,243.1 498.0,242.0 499.7,242.3 501.0,243.1 501.0,226.0"/>
<polygon fill="#ffff00" points="489.2,237.9 488.6,238.7 487.2,240.4 487.0,245.4 486.1,246.5 485.8,252.0 484.8,252.0 484.8,250.3 484.2,250.1 483.6,253.7 483.1,254.2 482.8,258.1 482.0,258.6 482.0,262.0 486.1,262.0 486.1,258.1 487.0,257.5 487.2,250.3 488.1,249.8 488.2,245.4 489.2,242.6"/>
<polygon fill="#ffff00" points="493.9,262.0 494.0,261.0 495.8,261.0 495.9,262.0"/>
</svg>
<svg x="451" y="262" width="100" height="66" viewBox="451 262 100 66" overflow="hidden">
<rect x="451" y="262" width="100" height="66" fill="#00f0ff"/>
<polygon fill="#ffff00" points="487.5,262.0 511.3,262.0 511.6,264.2 513.5,264.0 513.5,262.0 538.4,262.0 537.8,264.8 535.1,265.3 532.9,266.4 530.1,268.6 529.0,274.7 527.3,273.1 524.6,270.3 521.8,269.7 519.0,272.0 517.9,278.6 517.4,282.5 515.2,280.3 512.9,276.4 510.7,272.0 509.6,273.1 507.4,277.5 506.3,283.0 505.8,288.5 503.0,291.9 500.2,291.3 498.6,293.0 496.9,294.1 496.9,306.2 498.0,311.8 498.6,321.7 500.2,323.9 501.9,320.6 502.8,320.1 503.0,328.0 487.5,328.0"/>
<polygon fill="#00f0ff" points="521.8,273.6 522.9,273.6 522.9,274.7 521.8,274.7"/>
<polygon fill="#ffff00" points="519.0,285.8 520.1,285.8 520.7,295.2 520.9,306.2 520.1,307.9 519.0,306.2"/>
<polygon fill="#ffff00" points="551.0,264.8 550.0,265.3 548.3,270.8 548.1,283.0 551.0,284.1"/>
<polygon fill="#ffff00" points="551.0,294.1 548.3,294.6 548.1,298.5 546.1,306.2 545.0,310.7 542.8,315.1 541.2,317.3 540.0,323.9 538.4,328.0 551.0,328.0"/>
<polygon fill="#00f0ff" points="546.1,328.0 546.4,321.7 547.2,321.2 547.5,328.0"/>
<polygon fill="#ffff00" points="543.9,285.0 545.0,285.0 545.0,286.1 543.9,286.1"/>
<polygon fill="#ffff00" points="527.9,328.0 528.2,322.3 529.0,322.3 529.3,328.0"/>
<polygon fill="#ffff00" points="530.1,328.0 530.4,323.9 531.8,323.9 532.0,328.0"/>
</svg>
<svg x="451" y="262" width="50" height="36" viewBox="451 262 50 36" overflow="hidden">
<rect x="451" y="262" width="50" height="36" fill="#00f0ff"/>
<polygon fill="#ffff00" points="451.0,262.0 453.1,262.0 453.1,277.5 452.1,278.0 452.0,283.6 451.0,283.8"/>
<polygon fill="#ffff00" points="462.3,263.9 464.0,265.6 465.1,267.5 465.9,270.3 466.0,285.2 465.9,289.7 464.3,291.9 462.9,293.5 461.2,294.9 461.0,298.0 452.1,298.0 452.1,288.5 453.1,288.0 453.2,285.2 454.0,284.7 454.0,282.2 455.1,281.4 456.0,280.3 457.9,279.1 459.0,277.8 459.2,270.3 460.1,269.2 460.4,267.0 461.2,265.3"/>
<polygon fill="#ffff00" points="467.9,262.0 474.0,262.0 473.1,263.1 473.0,268.6 472.0,268.9 472.0,266.1 471.2,266.1 470.9,278.6 470.1,278.6 469.8,276.4 469.3,275.8 469.0,267.5 468.0,267.3"/>
<polygon fill="#ffff00" points="473.1,280.8 473.4,277.2 474.2,275.3 475.1,275.3 475.1,277.5 474.2,278.0 474.1,281.9 473.1,282.2"/>
<polygon fill="#ffff00" points="477.0,273.9 477.1,270.3 478.0,269.7 478.1,267.3 478.9,267.0 478.9,272.0 478.1,272.5 478.0,273.9"/>
<polygon fill="#ffff00" points="480.0,265.9 480.3,263.9 480.9,262.0 482.0,262.0 481.7,263.9 481.1,264.5 480.9,265.9"/>
<polygon fill="#ffff00" points="484.2,265.3 484.8,265.0 485.0,273.1 485.8,274.2 485.8,278.6 484.7,280.0 484.1,279.7 483.4,278.0 483.2,273.6 484.1,273.1"/>
<polygon fill="#ffff00" points="486.1,262.0 487.2,262.0 487.2,273.6 486.4,273.9"/>
<polygon fill="#ffff00" points="489.2,262.0 490.0,262.0 490.0,264.8 489.2,264.8"/>
<polygon fill="#ffff00" points="494.4,262.0 496.1,262.0 496.1,265.3 495.2,267.0 493.9,269.2 493.0,270.8 492.2,275.3 491.1,276.4 490.9,282.5 490.0,282.7 490.0,276.4 490.8,275.3 490.9,269.2 492.2,267.5 493.0,265.3 493.6,263.7"/>
<polygon fill="#ffff00" points="501.0,263.9 499.9,264.2 499.1,267.5 498.0,270.3 497.2,272.0 496.9,274.7 495.0,275.3 494.7,276.9 494.0,278.0 493.6,281.9 492.8,282.5 492.2,285.2 492.0,298.0 496.9,298.0 496.9,293.5 498.0,293.0 498.8,291.3 499.9,291.0 500.2,293.0 501.0,293.0"/>
<polygon fill="#ffff00" points="488.1,280.3 489.1,280.3 489.2,286.9 490.0,288.0 490.0,295.2 489.2,296.3 489.1,298.0 487.2,298.0 487.1,288.5 487.9,288.0"/>
<polygon fill="#ffff00" points="478.9,276.9 480.0,276.9 480.3,281.9 481.1,281.9 481.3,276.9 482.0,277.2 482.2,280.3 483.9,281.4 484.1,298.0 477.0,298.0 477.0,293.5 476.2,293.0 476.2,287.4 477.5,286.3 478.7,284.1"/>
<polygon fill="#0030ff" points="467.9,276.9 469.0,276.9 469.1,281.9 470.1,282.5 470.2,288.0 471.2,287.7 471.2,281.1 472.0,281.1 472.1,298.0 469.3,298.0 469.1,291.9 468.1,291.3 468.0,284.1"/>
<polygon fill="#0030ff" points="477.0,278.0 478.0,278.0 478.0,280.8 477.0,280.8"/>
<polygon fill="#0030ff" points="474.2,284.1 475.1,282.2 476.0,282.2 475.9,283.8 475.1,284.7 474.9,291.9 474.2,291.9"/>
<polygon fill="#0030ff" points="490.0,291.0 490.9,291.0 490.9,293.8 490.0,293.8"/>
<polygon fill="#ffd000" points="472.0,282.2 473.8,282.2 473.8,294.6 472.1,294.6"/>
<polygon fill="#ffd000" points="478.1,286.9 478.9,286.3 479.1,282.5 480.0,282.2 480.0,291.9 478.1,291.9"/>
<polygon fill="#ffd000" points="481.1,282.2 483.1,282.2 483.2,287.4 481.1,287.4"/>
<polygon fill="#ffa000" points="478.1,291.9 480.0,291.3 480.3,298.0 477.8,298.0"/>
<polygon fill="#ffa000" points="481.1,287.4 483.4,287.4 483.9,293.0 481.3,293.0"/>
<polygon fill="#ff6600" points="478.9,296.3 480.0,295.7 480.3,298.0 478.9,298.0"/>
<polygon fill="#ff6600" points="481.4,293.0 483.6,293.0 484.1,298.0 482.0,298.0"/>
</svg>
<svg x="451" y="292" width="50" height="36" viewBox="451 292 50 36" overflow="hidden">
<rect x="451" y="292" width="50" height="36" fill="#ffff00"/>
<polygon fill="#00f0ff" points="451.0,292.0 452.0,292.0 452.0,305.8 451.0,306.1"/>
<polygon fill="#00f0ff" points="464.0,292.0 469.0,292.0 469.0,323.0 468.1,321.9 467.9,311.9 467.0,311.6 466.8,310.3 465.9,310.5 465.7,312.2 464.0,312.7 462.9,311.6 462.1,309.7 461.8,306.9 461.0,306.4 461.1,295.3 462.1,294.5 462.9,293.4"/>
<polygon fill="#00f0ff" points="471.9,292.0 472.8,292.0 472.8,294.2 472.0,294.5"/>
<polygon fill="#00f0ff" points="471.2,306.9 472.0,306.9 472.0,320.8 471.2,320.8"/>
<polygon fill="#00f0ff" points="458.1,328.0 458.1,321.0 459.0,321.0 459.2,323.8 460.1,324.4 460.1,328.0"/>
<polygon fill="#00f0ff" points="474.0,292.0 477.3,292.0 477.1,294.2 476.2,294.5 476.2,303.9 475.3,304.2 475.2,294.8 474.2,294.8"/>
<polygon fill="#00f0ff" points="484.5,292.0 487.0,292.0 487.1,299.2 487.8,299.7 487.9,308.6 486.1,308.9 486.0,307.5 484.8,306.4 484.7,297.5"/>
<polygon fill="#00f0ff" points="481.1,309.1 482.0,309.1 482.0,313.6 481.1,313.6"/>
<polygon fill="#00f0ff" points="482.2,315.2 483.1,315.2 483.2,319.7 483.9,320.2 484.1,328.0 482.4,328.0"/>
<polygon fill="#00f0ff" points="485.2,319.9 486.0,319.9 486.0,328.0 485.2,328.0"/>
<polygon fill="#00f0ff" points="488.9,297.5 489.2,295.9 490.0,295.6 490.2,292.0 491.9,292.0 491.9,307.5 491.1,307.8 490.9,303.1 490.2,302.5 490.0,297.8"/>
<polygon fill="#00f0ff" points="496.9,293.1 498.0,293.4 498.8,292.0 501.0,292.0 501.0,321.9 500.2,322.1 500.1,325.7 499.1,325.7 499.0,320.8 498.0,320.2 497.9,315.8 498.8,315.2 499.0,312.5 498.0,311.9 497.9,300.3 497.0,299.7"/>
<polygon fill="#00f0ff" points="475.3,308.0 477.0,308.0 477.8,308.6 477.8,310.3 477.0,310.3 477.0,309.1 475.3,309.1"/>
<polygon fill="#ffd000" points="472.1,292.0 473.8,292.0 473.8,294.8 472.8,294.5 472.8,292.0"/>
<polygon fill="#ffd000" points="473.1,311.1 473.8,311.1 474.0,328.0 473.1,328.0"/>
<polygon fill="#ffd000" points="477.3,292.0 484.5,292.0 484.7,297.5 484.8,306.4 485.0,314.1 484.7,318.0 483.9,318.5 482.0,314.1 481.7,323.0 481.4,326.3 479.5,326.3 478.9,314.1 478.1,305.8 477.5,297.5"/>
<polygon fill="#ffa000" points="477.8,292.0 480.3,292.0 480.6,300.3 481.1,308.6 481.3,315.8 480.9,321.9 479.5,321.9 479.2,313.0 478.7,303.1 478.0,296.4"/>
<polygon fill="#ffa000" points="481.3,292.0 484.2,292.0 484.5,300.3 484.6,308.0 483.4,309.7 482.5,303.1 481.7,296.4"/>
<polygon fill="#ff6600" points="478.1,292.0 479.8,292.0 480.0,297.5 480.6,305.8 480.9,314.1 480.6,319.7 479.8,319.7 479.5,311.4 478.9,302.0 478.4,295.3"/>
<polygon fill="#ff6600" points="481.9,292.0 483.4,292.0 483.7,298.6 483.9,304.2 483.1,304.2 482.4,297.5"/>
<polygon fill="#ffd000" points="489.2,309.1 490.0,309.1 490.2,311.9 490.9,312.2 490.9,325.2 490.2,325.7 490.0,328.0 489.1,328.0"/>
<polygon fill="#0030ff" points="469.1,292.0 471.9,292.0 471.9,306.9 471.2,307.2 471.2,320.8 471.9,321.3 471.9,328.0 470.1,328.0 470.1,324.1 469.1,323.2"/>
<polygon fill="#0030ff" points="475.8,304.2 476.9,304.2 476.9,307.8 475.8,307.8"/>
<polygon fill="#0030ff" points="476.9,310.3 477.8,310.3 478.1,320.8 478.7,321.3 478.7,326.6 477.1,326.8 477.0,320.8"/>
<polygon fill="#0000aa" points="477.1,313.0 477.8,312.7 478.0,320.2 477.3,320.5"/>
<polygon fill="#0030ff" points="486.0,309.1 487.0,309.1 487.1,328.0 486.0,328.0"/>
<polygon fill="#0030ff" points="490.2,292.0 490.9,292.0 490.9,293.9 490.2,293.9"/>
</svg>
<svg x="451" y="328" width="100" height="66" viewBox="451 328 100 66" overflow="hidden">
<rect x="451" y="328" width="100" height="66" fill="#ffff00"/>
<polygon fill="#00f0ff" points="451.0,336.3 452.7,339.1 454.3,345.7 454.9,349.0 453.8,352.3 451.0,354.0"/>
<polygon fill="#00f0ff" points="458.2,391.1 458.2,362.3 459.8,357.9 461.5,354.5 463.2,349.0 464.3,343.5 465.4,345.7 467.0,352.3 468.7,357.9 470.4,361.2 471.5,365.6 472.0,372.2 472.6,391.1"/>
<polygon fill="#ffff00" points="462.1,391.1 462.1,388.3 463.2,388.3 463.2,391.1"/>
<polygon fill="#00f0ff" points="503.0,328.0 527.3,328.0 526.2,332.4 526.2,336.8 525.1,344.6 524.0,350.1 522.9,354.0 521.8,350.1 519.6,346.3 517.9,342.4 517.4,345.7 514.6,349.0 515.2,342.4 515.2,334.6 514.1,331.3 512.4,329.1 510.7,331.3 508.5,336.8 506.3,341.3 504.7,345.7 503.9,349.0 503.0,339.1"/>
<polygon fill="#00f0ff" points="494.1,342.4 495.2,342.4 497.5,344.6 499.7,350.1 501.3,354.5 503.0,349.0 503.9,349.0 504.7,361.2 506.3,367.8 508.0,374.5 508.5,381.1 509.1,391.1 495.2,391.1 494.7,385.5 492.5,383.3 490.3,380.0 489.2,374.5 488.1,361.2 488.6,354.5 489.7,347.9 489.2,339.1 490.8,335.2 491.4,342.4"/>
<polygon fill="#ffff00" points="496.1,359.0 496.9,359.0 496.9,366.7 496.1,366.7"/>
<polygon fill="#ffff00" points="494.4,366.7 495.0,366.7 495.0,371.1 494.4,371.1"/>
<polygon fill="#ffff00" points="495.2,373.9 495.9,373.9 495.9,377.8 495.2,377.8"/>
<polygon fill="#00f0ff" points="529.0,328.0 530.1,328.0 530.1,330.2 529.0,330.2"/>
<polygon fill="#00f0ff" points="532.9,328.0 534.0,328.0 533.7,333.5 532.9,334.1"/>
<polygon fill="#00f0ff" points="538.9,333.5 541.2,332.4 541.7,339.1 541.2,350.1 540.6,361.2 539.5,365.6 538.4,372.2 537.3,366.7 538.4,355.7 538.9,344.6"/>
<polygon fill="#00f0ff" points="542.3,335.7 543.9,334.6 545.0,339.1 545.6,350.1 545.0,361.2 543.9,370.0 542.8,375.6 540.6,380.0 539.5,385.5 538.4,391.1 532.3,391.1 532.9,384.4 534.0,376.7 535.6,372.2 537.3,365.6 539.5,361.2 541.2,355.7 541.7,344.6"/>
<polygon fill="#00f0ff" points="548.3,338.0 549.5,337.4 551.0,334.6 551.0,391.1 548.3,391.1 548.9,384.4 547.2,375.6 545.6,372.2 546.7,364.5 547.8,355.7 548.3,344.6"/>
<polygon fill="#00f0ff" points="537.3,328.0 547.2,328.0 546.7,331.3 545.0,332.4 539.5,331.3"/>
<polygon fill="#00f0ff" points="522.9,391.1 523.5,384.4 524.2,381.1 524.9,384.4 524.9,391.1"/>
<polygon fill="#00f0ff" points="528.4,391.1 529.0,388.3 529.8,391.1"/>
<polygon fill="#00f0ff" points="533.1,378.9 533.7,376.7 534.0,381.1 533.4,383.3"/>
</svg>
<svg x="461" y="328" width="50" height="36" viewBox="461 328 50 36" overflow="hidden">
<rect x="461" y="328" width="50" height="36" fill="#ffff00"/>
<polygon fill="#00f0ff" points="461.0,355.1 462.1,354.0 463.1,352.3 463.2,348.5 464.0,347.4 464.2,343.2 465.0,343.2 465.1,345.7 466.0,346.8 466.3,350.1 467.1,351.2 467.9,354.5 468.1,359.0 469.0,360.1 469.2,364.0 461.0,364.0"/>
<polygon fill="#00f0ff" points="469.2,328.0 470.1,328.0 470.1,339.1 469.3,338.8"/>
<polygon fill="#00f0ff" points="470.0,340.7 472.1,340.7 472.1,338.0 473.1,338.0 473.1,351.0 474.0,351.2 474.2,364.0 472.1,364.0 470.1,361.2"/>
<polygon fill="#00f0ff" points="474.8,328.0 475.7,328.0 475.8,351.8 474.8,351.8"/>
<polygon fill="#00f0ff" points="474.2,351.2 477.6,351.2 477.9,355.1 477.0,355.1 476.9,364.0 474.2,364.0"/>
<polygon fill="#00f0ff" points="477.6,328.0 488.1,328.0 488.1,333.5 489.2,334.6 489.8,336.8 490.3,335.2 491.1,335.2 492.0,337.4 492.0,364.0 480.4,364.0 480.1,362.3 479.3,361.2 478.7,357.9 477.9,355.1 477.6,351.2 478.1,350.1 478.1,343.5 478.7,341.8 478.7,334.6 477.6,333.5"/>
<polygon fill="#ffff00" points="478.7,328.0 480.1,328.0 480.1,329.7 478.7,329.7"/>
<polygon fill="#ffff00" points="484.2,328.0 485.1,328.0 485.2,338.0 486.2,339.6 487.0,342.4 488.1,344.6 488.7,350.1 488.9,355.1 488.1,354.5 487.8,352.3 487.0,350.1 486.2,344.6 485.3,341.3 484.5,339.1"/>
<polygon fill="#ffff00" points="478.1,350.1 479.3,352.3 480.9,354.0 482.3,356.2 483.1,359.0 484.0,359.8 484.0,364.0 481.2,364.0 480.9,362.3 480.1,361.7 479.8,359.0 478.7,357.9 477.9,355.1"/>
<polygon fill="#ffff00" points="482.0,348.2 482.8,348.2 482.8,349.0 482.0,349.0"/>
<polygon fill="#ffff00" points="487.0,364.0 487.1,360.1 487.8,360.1 488.1,362.3 488.7,363.4 488.7,364.0"/>
<polygon fill="#0030ff" points="470.1,328.0 472.1,328.0 472.1,340.7 470.1,340.4"/>
<polygon fill="#0030ff" points="471.0,340.7 472.1,340.7 472.1,350.7 471.2,350.7"/>
<polygon fill="#0030ff" points="479.0,332.1 480.1,332.1 480.1,340.7 480.9,341.3 481.0,348.7 480.1,348.7 479.8,346.3 479.0,345.7"/>
<polygon fill="#0000aa" points="479.3,341.3 480.6,341.3 480.8,346.3 479.5,346.3"/>
<polygon fill="#0030ff" points="484.0,347.1 485.1,347.1 485.1,356.8 484.0,356.8"/>
<polygon fill="#0000aa" points="477.0,355.1 477.9,355.1 478.0,357.9 478.7,363.4 478.7,364.0 477.0,364.0"/>
<polygon fill="#0030ff" points="488.9,358.1 490.0,358.1 490.0,364.0 488.9,364.0"/>
<polygon fill="#0030ff" points="485.9,328.0 487.0,328.0 487.0,328.8 485.9,328.8"/>
<polygon fill="#ffd000" points="473.2,328.0 474.0,328.0 474.0,340.4 473.3,340.4"/>
<polygon fill="#ffa000" points="475.9,328.0 477.0,328.0 477.3,333.5 477.9,339.1 477.9,346.3 477.0,346.5 476.9,340.2 476.2,338.0"/>
<polygon fill="#ff6600" points="476.0,329.1 476.8,329.1 477.0,333.5 477.3,337.4 476.5,337.4 476.2,333.0"/>
<polygon fill="#ffd000" points="481.0,341.3 481.4,341.3 481.4,345.7 481.0,345.7"/>
<polygon fill="#00f0ff" points="503.0,328.0 511.0,328.0 511.0,331.9 509.9,332.4 509.7,334.6 508.8,335.7 508.6,338.5 507.7,339.1 506.9,341.8 506.1,342.9 505.0,345.7 504.0,345.7 503.9,333.5 503.1,333.0"/>
<polygon fill="#00f0ff" points="494.1,343.2 495.8,343.2 496.1,344.9 497.8,345.1 498.1,347.4 498.9,350.1 499.7,357.9 500.8,355.1 501.9,352.9 502.2,350.1 503.0,349.3 504.0,349.0 504.1,362.3 505.0,363.4 505.0,364.0 497.0,364.0 497.0,359.2 496.1,359.2 496.0,364.0 494.1,364.0"/>
</svg>
<svg x="461" y="358" width="50" height="36" viewBox="461 358 50 36" overflow="hidden">
<rect x="461" y="358" width="50" height="36" fill="#00f0ff"/>
<polygon fill="#ffff00" points="468.1,358.0 469.8,358.0 470.1,360.8 471.2,361.9 472.1,365.2 472.9,367.4 473.1,376.8 472.1,378.5 472.1,391.0 468.1,391.0 468.1,384.0 469.0,382.3 469.2,360.8"/>
<polygon fill="#ffff00" points="473.2,358.0 474.0,358.0 474.2,363.5 474.9,365.2 475.1,375.7 475.9,377.9 476.0,391.0 474.2,391.0 474.0,365.7 473.2,364.1"/>
<polygon fill="#ffff00" points="479.0,358.0 480.1,358.0 480.1,369.9 479.0,369.9"/>
<polygon fill="#ffff00" points="480.1,358.0 482.8,358.0 483.1,359.1 484.0,359.7 484.1,363.5 485.1,365.2 485.2,382.3 484.2,382.9 484.1,390.6 483.1,390.1 482.0,387.9 481.2,385.7 481.0,383.4 482.0,382.9 482.1,367.4 481.0,366.3 480.9,362.1 480.1,361.9"/>
<polygon fill="#ffff00" points="487.0,360.2 487.8,360.2 488.0,363.0 488.9,363.5 489.1,371.8 490.0,372.4 490.2,376.3 491.1,376.8 491.3,381.2 492.2,382.3 493.1,384.0 494.8,385.1 495.0,391.0 490.9,391.0 490.9,386.2 490.0,385.9 489.2,386.8 488.9,391.0 488.0,391.0 488.0,384.5 487.0,384.0 487.0,376.3 486.2,376.0 486.2,375.1 487.0,374.9"/>
<polygon fill="#ffff00" points="492.0,358.0 493.9,358.0 493.9,365.7 492.1,365.7"/>
<polygon fill="#ffff00" points="496.0,359.1 497.0,359.1 497.0,369.9 496.0,369.9"/>
<polygon fill="#ffff00" points="494.1,367.1 494.8,367.1 494.8,371.0 494.1,371.0"/>
<polygon fill="#ffff00" points="494.8,374.0 496.0,374.0 496.0,377.9 494.8,377.9"/>
<polygon fill="#ffff00" points="504.0,358.0 511.0,358.0 511.0,391.0 509.1,391.0 509.0,382.3 508.0,381.2 507.9,375.1 506.9,374.0 506.8,370.7 505.9,369.6 505.8,366.3 505.0,365.2 504.8,363.0 504.0,362.4"/>
<polygon fill="#ffff00" points="462.1,391.0 462.1,388.1 463.1,388.1 463.1,391.0"/>
<polygon fill="#ffff00" points="480.1,391.0 480.1,388.1 480.9,388.1 480.9,391.0"/>
<polygon fill="#ffff00" points="477.0,387.9 477.2,386.2 477.9,386.2 477.9,387.9"/>
<polygon fill="#0030ff" points="477.0,358.0 478.0,358.0 478.1,363.0 478.8,363.3 479.0,374.0 478.0,374.6 477.9,376.8 477.0,379.0 476.9,381.2 476.0,381.5 476.0,379.6 476.9,377.4 477.0,369.1"/>
<polygon fill="#7800aa" points="477.2,368.2 477.9,368.2 477.9,370.7 477.2,370.7"/>
<polygon fill="#0030ff" points="478.0,382.3 479.0,382.3 479.0,388.7 478.1,388.7"/>
<polygon fill="#0030ff" points="488.9,358.0 490.0,358.0 490.0,364.6 489.1,364.6"/>
<polygon fill="#ffd000" points="488.0,375.1 488.9,375.1 488.9,383.4 488.1,383.4"/>
</svg>
<svg x="549" y="130" width="100" height="66" viewBox="549 130 100 66" overflow="hidden">
<rect x="549" y="130" width="100" height="66" fill="#00f0ff"/>
<polygon fill="#ffff00" points="566.7,132.0 568.9,132.0 569.1,146.6 571.7,145.5 572.8,144.9 573.3,151.0 574.7,154.3 576.7,147.7 578.3,143.3 578.9,132.0 594.9,132.0 595.2,141.6 596.6,138.8 597.7,132.0 604.3,132.0 603.2,141.1 602.1,146.6 601.0,151.0 625.0,151.0 625.0,186.0 610.9,186.0 608.7,184.2 607.1,189.7 606.5,196.0 587.7,196.0 587.2,191.9 586.1,193.6 585.5,196.0 581.1,196.0 580.5,190.8 579.1,191.9 578.9,196.0 576.7,191.9 574.4,187.5 572.2,179.8 570.6,173.1 569.5,174.2 566.1,177.6 563.9,175.4 562.3,178.7 560.1,186.4 557.3,191.9 554.5,196.0 549.0,196.0 549.0,172.0 551.2,170.9 555.6,166.5 560.1,162.1 562.3,156.5 564.5,149.9 565.6,141.1"/>
<polygon fill="#ffff00" points="623.1,132.0 630.3,132.0 630.9,141.1 630.9,152.1 628.6,153.8 625.9,152.7 624.2,149.9 623.3,143.3"/>
<polygon fill="#ffff00" points="640.8,132.0 647.0,132.0 647.0,153.2 645.2,149.9 643.0,147.7 641.4,144.4 640.8,138.8"/>
<polygon fill="#ffff00" points="633.6,158.8 636.9,156.5 641.4,156.0 642.8,158.8 643.0,163.2 641.9,167.6 640.8,173.1 637.5,176.5 634.7,178.7 633.6,183.1 632.5,187.5 631.4,193.1 630.9,196.0 621.5,196.0 622.0,191.9 623.1,185.3 625.3,179.8 628.6,175.4 631.4,173.1 633.1,166.5"/>
<polygon fill="#ffff00" points="636.4,196.0 640.8,190.8 643.6,185.3 645.2,179.8 646.3,174.2 647.0,173.7 647.0,196.0"/>
</svg>
<svg x="575" y="150" width="50" height="36" viewBox="575 150 50 36" overflow="hidden">
<rect x="575" y="150" width="50" height="36" fill="#ffff00"/>
<polygon fill="#00f0ff" points="591.3,153.9 591.9,154.1 592.0,167.7 593.0,167.7 594.1,166.0 595.2,164.4 596.0,162.2 597.1,160.5 597.7,157.7 598.0,155.5 599.1,154.1 599.3,151.1 600.4,150.0 602.9,150.0 602.9,152.8 602.1,153.3 601.8,157.7 601.0,158.8 600.7,165.5 599.9,166.6 599.6,169.4 598.8,170.5 598.0,173.8 597.7,177.1 596.8,177.7 596.0,179.9 594.9,181.5 594.1,183.7 593.0,186.0 591.0,186.0 591.0,176.0 589.4,176.0 588.8,177.7 588.0,178.8 586.9,181.0 585.5,182.1 584.1,181.8 584.1,173.2 585.0,172.7 585.1,167.1 586.1,166.0 586.3,164.1 587.2,162.2 588.0,160.5 588.3,158.8 589.1,157.2 589.9,155.5"/>
<polygon fill="#00f0ff" points="608.1,150.0 623.7,150.0 623.9,150.8 625.0,151.1 625.0,178.8 623.9,179.3 623.7,181.0 623.1,182.6 623.1,186.0 618.1,186.0 617.9,184.8 618.7,183.2 619.2,181.5 620.9,180.4 621.2,178.8 622.0,178.5 622.0,171.6 622.8,170.5 622.8,163.8 622.0,163.3 621.9,161.1 618.1,161.1 617.6,161.9 616.8,161.1 615.9,159.4 615.1,158.3 614.8,157.2 613.2,156.9 612.1,158.3 611.0,159.1 610.4,160.8 609.3,161.9 608.2,163.8 608.1,169.9 607.1,170.2 606.2,177.7 606.0,179.9 604.9,181.5 603.8,183.2 602.7,184.8 601.8,186.0 599.1,186.0 599.3,179.9 599.9,177.1 600.7,176.0 601.0,171.8 601.8,170.5 602.7,169.4 603.8,168.3 604.0,166.0 604.9,165.5 605.1,163.8 606.0,162.2 606.8,160.5 607.1,158.8 608.1,157.7"/>
<polygon fill="#00f0ff" points="608.2,186.0 608.2,184.3 609.3,182.6 610.4,181.5 611.2,179.3 612.6,179.0 613.7,181.0 614.8,182.6 615.9,184.6 617.0,185.1 617.0,186.0"/>
<polygon fill="#00f0ff" points="575.0,150.0 576.0,150.0 576.0,152.8 575.0,152.8"/>
</svg>
<svg x="549" y="196" width="100" height="66" viewBox="549 196 100 66" overflow="hidden">
<rect x="549" y="196" width="100" height="66" fill="#ffff00"/>
<polygon fill="#00f0ff" points="549.0,196.0 572.8,196.0 571.1,198.8 568.4,199.3 566.7,201.0 565.6,203.7 563.4,204.3 561.7,207.1 559.5,210.4 557.8,213.7 554.5,215.9 551.8,217.6 549.0,215.9"/>
<polygon fill="#00f0ff" points="574.2,196.0 576.7,196.0 576.1,198.2 574.7,198.0"/>
<polygon fill="#00f0ff" points="582.2,196.0 587.7,196.0 586.6,200.4 585.0,204.8 583.3,209.3 581.1,214.8 580.2,225.9 582.2,222.5 584.4,217.0 587.2,210.4 589.4,207.1 591.0,206.5 591.9,211.5 590.5,217.0 588.3,222.5 586.1,228.1 584.4,233.6 581.6,239.1 578.3,244.7 575.0,250.8 572.8,253.0 573.1,240.2 570.6,245.8 568.4,251.3 566.1,255.7 565.0,262.0 549.0,262.0 549.0,240.2 551.2,236.9 554.0,232.5 556.7,225.9 559.0,223.1 561.2,223.7 562.8,225.9 563.4,231.4 565.6,228.1 568.9,222.5 572.8,219.8 575.5,216.5 577.2,211.5 578.3,206.0 580.0,201.0 581.6,198.2"/>
<polygon fill="#ffff00" points="561.7,229.2 563.4,229.2 562.5,238.0 561.2,244.7 560.1,251.3 559.5,257.9 559.0,262.0 556.7,262.0 557.6,255.7 558.7,249.1 559.8,242.5 560.9,235.8"/>
<polygon fill="#ffff00" points="565.0,240.2 566.5,240.2 565.8,248.0 564.5,255.7 563.9,262.0 562.1,262.0 562.7,255.7 564.0,246.9"/>
<polygon fill="#ffff00" points="553.2,248.0 554.8,246.9 554.5,253.5 553.9,257.9 553.4,262.0 551.7,262.0 552.3,255.7"/>
<polygon fill="#ffff00" points="560.1,262.0 560.3,257.9 560.9,255.7 561.2,262.0"/>
<polygon fill="#00f0ff" points="603.8,205.4 604.3,209.3 606.0,214.8 606.3,222.0 603.2,220.9 601.0,223.7 598.8,229.2 596.6,234.7 593.2,240.2 590.5,245.2 587.7,248.0 585.3,247.4 585.0,243.6 587.2,239.1 589.4,234.7 591.6,228.1 593.8,222.5 596.0,216.5 598.8,212.6 601.5,208.2"/>
<polygon fill="#00f0ff" points="613.7,224.2 613.2,228.1 610.9,232.5 607.6,238.0 604.3,242.5 601.0,246.9 597.7,251.3 594.9,254.1 593.8,250.2 594.9,245.8 596.6,241.4 598.2,236.9 601.0,234.7 604.3,233.6 607.6,230.3 610.9,227.0"/>
<polygon fill="#00f0ff" points="606.0,196.0 619.8,196.0 619.2,199.3 616.5,202.1 612.6,203.7 609.3,201.5 606.5,200.4"/>
<polygon fill="#00f0ff" points="622.0,206.0 623.1,202.6 625.3,199.3 628.6,197.1 633.1,196.0 634.2,196.0 633.6,200.4 632.0,206.0 629.8,210.4 626.4,212.6 622.6,212.6"/>
<polygon fill="#00f0ff" points="647.0,206.0 645.2,207.1 641.9,210.4 638.6,212.6 636.4,215.9 634.2,219.2 632.0,223.7 629.8,227.0 626.4,229.2 622.0,230.3 618.1,232.5 615.4,236.9 613.2,242.5 609.8,248.0 606.5,252.4 603.2,256.8 601.0,262.0 610.9,262.0 613.2,256.8 615.4,252.4 618.1,248.0 620.9,244.1 624.8,241.4 628.6,238.0 633.1,233.6 636.4,227.0 638.6,223.7 641.9,221.4 645.2,219.8 647.0,219.2"/>
<polygon fill="#00f0ff" points="619.2,262.0 620.9,256.8 623.1,252.4 626.4,248.0 630.9,243.6 636.4,241.4 641.9,241.6 647.0,243.6 647.0,262.0"/>
</svg>
<svg x="549" y="262" width="100" height="66" viewBox="549 262 100 66" overflow="hidden">
<rect x="549" y="262" width="100" height="66" fill="#00f0ff"/>
<polygon fill="#ffff00" points="549.0,262.0 557.8,262.0 556.7,268.6 555.1,278.6 554.3,290.8 554.5,304.0 554.3,315.1 554.0,328.0 551.2,328.0 550.7,321.7 549.0,318.4"/>
<polygon fill="#00f0ff" points="550.1,283.0 551.4,276.4 552.3,284.1 553.2,291.9 552.9,295.2 551.2,301.8 549.0,305.1 549.0,284.1"/>
<polygon fill="#ffff00" points="559.5,262.0 562.1,262.0 560.6,268.6 559.0,277.5 558.1,286.3 557.8,297.4 558.4,306.2 558.7,328.0 555.9,328.0 555.6,317.3 555.4,306.2 555.4,295.2 555.9,284.1 557.3,273.1 558.7,265.3"/>
<polygon fill="#ffff00" points="563.4,262.0 583.3,262.0 582.7,267.5 581.1,273.1 580.0,278.6 578.6,284.1 578.0,290.8 577.2,298.5 572.8,298.5 573.3,290.8 575.0,281.9 576.1,274.2 575.0,270.8 573.6,273.1 571.7,277.5 569.5,284.1 568.0,290.8 567.3,298.5 566.7,298.5 566.5,290.8 565.6,284.1 563.4,279.7 562.1,280.8 562.3,273.1 562.8,266.4"/>
<polygon fill="#ffff00" points="566.7,289.7 568.4,289.7 567.6,298.5 567.3,306.2 568.7,310.7 570.6,317.3 571.1,328.0 566.7,328.0 566.1,321.7 567.3,317.3 566.5,311.8 565.8,306.2 566.1,298.5"/>
<polygon fill="#ffff00" points="561.2,328.0 561.7,321.7 563.2,314.0 563.9,315.1 563.2,321.7 562.8,328.0"/>
<polygon fill="#ffff00" points="572.8,298.5 577.2,298.5 576.9,308.5 577.5,319.5 578.0,327.3 576.1,323.9 573.9,319.5 572.8,312.9 572.5,306.2"/>
<polygon fill="#ffff00" points="585.7,262.0 599.9,262.0 598.8,265.3 597.1,269.7 595.5,273.1 593.2,268.6 591.6,265.9 589.9,268.6 588.8,273.1 587.7,279.7 587.2,286.3 586.1,290.8 585.5,306.2 585.0,317.3 585.0,325.1 583.3,327.3 582.2,325.1 582.0,315.1 582.2,304.0 582.7,293.0 583.3,284.1 584.4,276.4 585.5,269.7"/>
<polygon fill="#ffff00" points="592.7,295.2 593.8,294.1 594.4,299.6 594.9,308.5 594.9,328.0 591.6,328.0 591.9,317.3 592.1,306.2 592.4,299.6"/>
<polygon fill="#ffff00" points="609.3,262.0 618.7,262.0 617.6,268.6 615.9,275.3 614.3,280.8 612.1,283.6 609.3,284.1 607.6,289.7 606.5,296.3 604.9,301.8 603.2,308.5 602.7,315.1 603.8,321.7 604.1,328.0 600.4,328.0 600.1,317.3 599.9,306.2 600.1,295.2 600.8,287.4 602.1,280.8 604.3,274.2 606.5,267.5"/>
<polygon fill="#ffff00" points="634.7,264.2 637.5,262.0 639.2,262.0 638.8,268.6 638.0,276.4 635.3,283.0 634.2,289.7 633.1,297.4 632.0,306.2 631.4,317.3 631.4,328.0 619.8,328.0 620.3,317.3 621.5,306.2 621.1,298.5 622.0,289.7 623.7,280.8 625.3,274.2 627.5,269.7 630.9,267.0"/>
<polygon fill="#ffff00" points="647.0,275.3 645.2,279.7 644.1,284.1 643.0,295.2 643.0,328.0 647.0,328.0"/>
</svg>
<svg x="549" y="328" width="100" height="66" viewBox="549 328 100 66" overflow="hidden">
<rect x="549" y="328" width="100" height="66" fill="#00f0ff"/>
<polygon fill="#ffff00" points="549.0,328.0 554.0,328.0 554.0,341.3 552.5,345.7 551.4,350.1 551.0,364.5 552.3,372.2 553.2,380.0 553.4,385.5 552.5,385.5 551.8,377.8 550.1,370.0 549.0,365.6"/>
<polygon fill="#00f0ff" points="551.0,328.0 551.8,328.0 551.8,334.6 551.0,335.7"/>
<polygon fill="#ffff00" points="555.1,328.0 559.0,328.0 559.0,339.1 557.6,346.8 556.7,349.0 556.5,361.2 557.3,374.5 557.8,385.5 558.1,391.1 556.5,391.1 556.2,381.1 555.1,370.0 554.8,359.0 555.1,347.9"/>
<polygon fill="#ffff00" points="559.5,342.4 560.6,342.4 560.1,350.1 559.5,361.2 559.8,372.2 560.1,376.7 559.0,376.7 558.4,366.7 558.4,355.7 558.7,347.9"/>
<polygon fill="#ffff00" points="559.5,328.0 570.6,328.0 570.0,333.5 568.4,336.3 565.6,336.8 565.0,341.3 562.3,340.2 561.2,337.4 560.1,334.6"/>
<polygon fill="#00f0ff" points="565.6,328.0 566.7,328.0 566.7,334.6 565.6,334.6"/>
<polygon fill="#00f0ff" points="568.0,328.0 568.9,328.0 568.9,332.4 568.0,332.4"/>
<polygon fill="#ffff00" points="561.2,337.4 562.3,340.2 565.0,341.3 565.6,336.8 568.4,336.3 568.7,344.6 570.6,342.4 571.7,337.4 573.3,336.3 575.5,340.2 577.8,345.7 579.4,351.8 581.6,355.7 583.3,353.4 584.4,349.0 585.7,344.6 587.2,346.8 588.3,350.1 589.4,355.7 591.0,361.2 593.2,364.5 594.9,367.8 595.2,391.1 588.8,391.1 588.3,381.1 587.2,372.2 586.1,363.4 585.0,359.0 582.7,361.2 581.6,370.0 581.1,391.1 575.0,391.1 574.4,377.8 574.2,364.5 573.6,364.5 572.8,377.8 572.8,391.1 571.1,391.1 570.0,383.3 567.3,377.8 566.1,376.7 565.6,385.5 565.0,391.1 562.8,391.1 562.8,382.2 562.3,376.7 563.4,370.0 563.9,361.2 563.4,350.1 562.3,344.6"/>
<polygon fill="#00f0ff" points="571.1,352.9 572.0,352.9 572.0,356.8 571.1,356.8"/>
<polygon fill="#00f0ff" points="565.4,354.5 566.1,354.5 566.1,356.8 565.4,356.8"/>
<polygon fill="#00f0ff" points="563.9,367.8 564.7,367.8 564.7,369.5 563.9,369.5"/>
<polygon fill="#00f0ff" points="563.9,383.3 565.0,383.3 565.0,386.6 563.9,386.6"/>
<polygon fill="#ffff00" points="596.6,340.2 598.2,344.6 599.9,351.2 601.0,356.8 602.7,361.2 605.4,360.1 607.1,362.3 608.2,370.0 609.3,378.9 609.8,385.5 610.4,391.1 600.8,391.1 600.4,381.1 600.1,370.0 600.4,364.5 597.7,360.1 596.0,355.7 595.2,350.1 595.2,344.6"/>
<polygon fill="#ffff00" points="609.8,333.0 611.5,335.7 613.7,340.2 615.4,344.6 616.5,350.1 618.1,356.8 620.9,362.3 624.2,366.7 625.9,368.9 626.2,391.1 617.4,391.1 616.5,381.1 615.4,372.2 614.3,364.5 612.6,357.9 610.9,352.3 609.3,347.9 608.5,342.4 608.7,336.8"/>
<polygon fill="#00f0ff" points="608.7,346.8 609.6,346.8 609.6,350.7 608.7,350.7"/>
<polygon fill="#ffff00" points="591.9,328.0 594.9,328.0 594.4,331.3 593.2,333.5 592.4,331.3"/>
<polygon fill="#ffff00" points="601.0,328.0 604.3,328.0 602.1,329.7"/>
<polygon fill="#ffff00" points="619.8,328.0 631.4,328.0 630.3,332.4 628.1,337.4 625.9,339.1 623.1,338.0 620.9,334.6 620.0,331.3"/>
<polygon fill="#ffff00" points="642.5,328.0 641.7,332.4 640.3,335.7 638.0,335.2 637.5,339.1 636.4,336.3 634.7,336.8 634.2,340.2 632.0,339.1 631.4,350.1 628.6,350.7 628.1,361.2 628.9,367.8 630.3,363.4 631.4,359.5 633.1,357.3 634.7,359.0 635.8,353.4 637.5,351.8 639.2,349.0 640.3,347.4 643.0,349.0 647.0,347.4 647.0,328.0"/>
<polygon fill="#ffff00" points="632.5,391.1 632.5,388.3 633.3,388.3 633.3,391.1"/>
<polygon fill="#ffff00" points="636.9,391.1 637.5,388.3 638.0,391.1"/>
<polygon fill="#ffff00" points="610.9,391.1 611.2,388.3 612.1,388.3 612.1,391.1"/>
<polygon fill="#ffff00" points="640.8,391.1 641.4,389.9 642.5,391.1"/>
</svg>
</svg>
<g fill="#000">
<rect x="271" y="388" width="1" height="3"/>
<rect x="271" y="132" width="1" height="4"/>
<rect x="286" y="388" width="1" height="3"/>
<rect x="286" y="132" width="1" height="4"/>
<rect x="302" y="388" width="1" height="3"/>
<rect x="302" y="132" width="1" height="4"/>
<rect x="317" y="388" width="1" height="3"/>
<rect x="317" y="132" width="1" height="4"/>
<rect x="331" y="382" width="2" height="9"/>
<rect x="331" y="132" width="2" height="9"/>
<rect x="348" y="388" width="1" height="3"/>
<rect x="348" y="132" width="1" height="4"/>
<rect x="363" y="388" width="1" height="3"/>
<rect x="363" y="132" width="1" height="4"/>
<rect x="378" y="388" width="1" height="3"/>
<rect x="378" y="132" width="1" height="4"/>
<rect x="394" y="388" width="1" height="3"/>
<rect x="394" y="132" width="1" height="4"/>
<rect x="408" y="382" width="2" height="9"/>
<rect x="408" y="132" width="2" height="9"/>
<rect x="424" y="388" width="1" height="3"/>
<rect x="424" y="132" width="1" height="4"/>
<rect x="440" y="388" width="1" height="3"/>
<rect x="440" y="132" width="1" height="4"/>
<rect x="455" y="388" width="1" height="3"/>
<rect x="455" y="132" width="1" height="4"/>
<rect x="470" y="388" width="1" height="3"/>
<rect x="470" y="132" width="1" height="4"/>
<rect x="485" y="382" width="2" height="9"/>
<rect x="485" y="132" width="2" height="9"/>
<rect x="501" y="388" width="1" height="3"/>
<rect x="501" y="132" width="1" height="4"/>
<rect x="516" y="388" width="1" height="3"/>
<rect x="516" y="132" width="1" height="4"/>
<rect x="532" y="388" width="1" height="3"/>
<rect x="532" y="132" width="1" height="4"/>
<rect x="547" y="388" width="1" height="3"/>
<rect x="547" y="132" width="1" height="4"/>
<rect x="561" y="382" width="2" height="9"/>
<rect x="561" y="132" width="2" height="9"/>
<rect x="578" y="388" width="1" height="3"/>
<rect x="578" y="132" width="1" height="4"/>
<rect x="593" y="388" width="1" height="3"/>
<rect x="593" y="132" width="1" height="4"/>
<rect x="608" y="388" width="1" height="3"/>
<rect x="608" y="132" width="1" height="4"/>
<rect x="624" y="388" width="1" height="3"/>
<rect x="624" y="132" width="1" height="4"/>
<rect x="638" y="382" width="2" height="9"/>
<rect x="638" y="132" width="2" height="9"/>
<rect x="257" y="376" width="4" height="1"/>
<rect x="644" y="376" width="3" height="1"/>
<rect x="257" y="358" width="4" height="1"/>
<rect x="644" y="358" width="3" height="1"/>
<rect x="257" y="341" width="4" height="1"/>
<rect x="644" y="341" width="3" height="1"/>
<rect x="257" y="323" width="4" height="1"/>
<rect x="644" y="323" width="3" height="1"/>
<rect x="257" y="305" width="9" height="2"/>
<rect x="638" y="305" width="9" height="2"/>
<rect x="257" y="288" width="4" height="1"/>
<rect x="644" y="288" width="3" height="1"/>
<rect x="257" y="270" width="4" height="1"/>
<rect x="644" y="270" width="3" height="1"/>
<rect x="257" y="253" width="4" height="1"/>
<rect x="644" y="253" width="3" height="1"/>
<rect x="257" y="235" width="4" height="1"/>
<rect x="644" y="235" width="3" height="1"/>
<rect x="257" y="217" width="9" height="2"/>
<rect x="638" y="217" width="9" height="2"/>
<rect x="257" y="200" width="4" height="1"/>
<rect x="644" y="200" width="3" height="1"/>
<rect x="257" y="182" width="4" height="1"/>
<rect x="644" y="182" width="3" height="1"/>
<rect x="257" y="165" width="4" height="1"/>
<rect x="644" y="165" width="3" height="1"/>
<rect x="257" y="147" width="4" height="1"/>
<rect x="644" y="147" width="3" height="1"/>
</g>
<rect x="663" y="195" width="15" height="198" fill="#000"/>
<rect x="665" y="197" width="11" height="40" fill="#ffe0e0"/>
<rect x="665" y="239" width="11" height="15" fill="#ffc0c0"/>
<rect x="665" y="256" width="11" height="15" fill="#ff8080"/>
<rect x="665" y="273" width="11" height="15" fill="#ff1818"/>
<rect x="665" y="290" width="11" height="15" fill="#ff6600"/>
<rect x="665" y="307" width="11" height="3" fill="#ffa000"/>
<rect x="665" y="312" width="11" height="4" fill="#ffd000"/>
<rect x="665" y="318" width="11" height="4" fill="#ffff00"/>
<rect x="665" y="324" width="11" height="3" fill="#00f0ff"/>
<rect x="665" y="329" width="11" height="4" fill="#0030ff"/>
<rect x="665" y="335" width="11" height="4" fill="#0000aa"/>
<rect x="665" y="341" width="11" height="14" fill="#7800aa"/>
<rect x="665" y="357" width="11" height="15" fill="#b400aa"/>
<rect x="665" y="374" width="11" height="17" fill="#eb00aa"/>
</g>
<text class="thin" y="84.5" font-size="28" stroke="#000" stroke-width="0.45"><tspan x="336" textLength="106.5" lengthAdjust="spacing">vertical</tspan> <tspan x="459.5" textLength="110" lengthAdjust="spacing">velocity</tspan></text>
<text x="163.5" y="109" font-size="17.5" textLength="90" lengthAdjust="spacing" stroke="#000" stroke-width="0.3">(×1E4 m)</text>
<text x="566.8" y="437.4" font-size="17.5" textLength="90.5" lengthAdjust="spacing" stroke="#000" stroke-width="0.3">(×1E5 m)</text>
<text class="thin" x="655" y="143" font-size="16.5" textLength="102.5" lengthAdjust="spacing" stroke="#000" stroke-width="0.35">t=124200 s</text>
<text y="468.5" font-size="23.5"><tspan x="372.8">X</tspan><tspan x="386.3" dy="-1.8" textLength="22" lengthAdjust="spacingAndGlyphs">-</tspan><tspan x="407.8" dy="1.8" textLength="125" lengthAdjust="spacing">coordinate</tspan></text>
<text transform="translate(217.8,340.3) rotate(-90)" y="0" font-size="23.5"><tspan x="-0.2">Z</tspan><tspan x="13.3" dy="-1.8" textLength="22" lengthAdjust="spacingAndGlyphs">-</tspan><tspan x="34.8" dy="1.8" textLength="125" lengthAdjust="spacing">coordinate</tspan></text>
<g class="lab" text-anchor="middle">
<text class="lib" x="331.6" y="415">1</text>
<text x="409.2" y="415" textLength="12.6" lengthAdjust="spacingAndGlyphs">2</text>
<text x="486" y="415" textLength="12.6" lengthAdjust="spacingAndGlyphs">3</text>
<text x="563" y="415" textLength="12.6" lengthAdjust="spacingAndGlyphs">4</text>
<text x="639.8" y="415" textLength="12.6" lengthAdjust="spacingAndGlyphs">5</text>
</g>
<g class="lab" text-anchor="end">
<text x="246.6" y="224" textLength="12.6" lengthAdjust="spacingAndGlyphs">2</text>
<text class="lib" x="244.3" y="312">1</text>
</g>
<g class="lab">
<text x="686.2" y="244.3" textLength="23.2" lengthAdjust="spacingAndGlyphs">15</text>
<text x="686.2" y="295.5" textLength="12.6" lengthAdjust="spacingAndGlyphs">6</text>
<text class="lib" x="686" y="323">1</text>
<text y="340.3"><tspan x="685.3" dy="-1.6" textLength="14.6" lengthAdjust="spacingAndGlyphs">-</tspan><tspan x="699.2" dy="1.6" textLength="12.6" lengthAdjust="spacingAndGlyphs">2</tspan></text>
<text y="379.5"><tspan x="685.3" dy="-1.6" textLength="14.6" lengthAdjust="spacingAndGlyphs">-</tspan><tspan x="699.2" dy="1.6" textLength="12.6" lengthAdjust="spacingAndGlyphs">9</tspan></text>
</g>
</svg>
</body>
</html>
